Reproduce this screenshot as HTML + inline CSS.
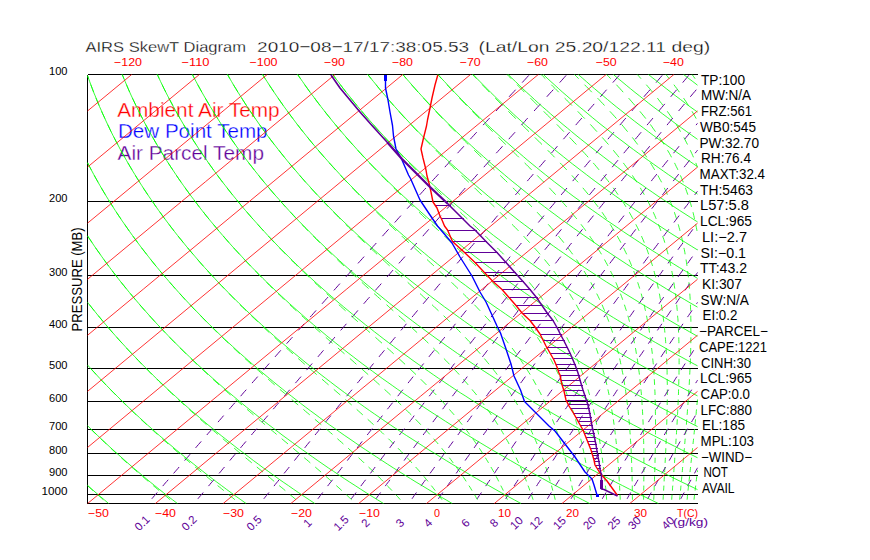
<!DOCTYPE html><html><head><meta charset="utf-8"><style>html,body{margin:0;padding:0;background:#fff;width:870px;height:560px;overflow:hidden;position:relative}</style></head><body>
<svg width="870" height="560" viewBox="0 0 870 560" style="position:absolute;left:0;top:0">
<g font-family="Liberation Sans, sans-serif"><text x="85.5" y="51.5" font-size="15.5" fill="#000" stroke="#fff" stroke-width="0.3" textLength="160.5" lengthAdjust="spacingAndGlyphs">AIRS SkewT Diagram</text>
<text x="257.1" y="51.5" font-size="15.5" fill="#000" stroke="#fff" stroke-width="0.3" textLength="212" lengthAdjust="spacingAndGlyphs">2010−08−17/17:38:05.53</text>
<text x="478.6" y="51.5" font-size="15.5" fill="#000" stroke="#fff" stroke-width="0.3" textLength="231.5" lengthAdjust="spacingAndGlyphs">(Lat/Lon 25.20/122.11 deg)</text>
<text x="114.0" y="66" font-size="11.5" fill="#ff0000" textLength="28" lengthAdjust="spacingAndGlyphs">−120</text>
<text x="181.5" y="66" font-size="11.5" fill="#ff0000" textLength="28" lengthAdjust="spacingAndGlyphs">−110</text>
<text x="249.5" y="66" font-size="11.5" fill="#ff0000" textLength="28" lengthAdjust="spacingAndGlyphs">−100</text>
<text x="324.0" y="66" font-size="11.5" fill="#ff0000" textLength="21" lengthAdjust="spacingAndGlyphs">−90</text>
<text x="392.0" y="66" font-size="11.5" fill="#ff0000" textLength="21" lengthAdjust="spacingAndGlyphs">−80</text>
<text x="459.7" y="66" font-size="11.5" fill="#ff0000" textLength="21" lengthAdjust="spacingAndGlyphs">−70</text>
<text x="527.0" y="66" font-size="11.5" fill="#ff0000" textLength="21" lengthAdjust="spacingAndGlyphs">−60</text>
<text x="595.7" y="66" font-size="11.5" fill="#ff0000" textLength="21" lengthAdjust="spacingAndGlyphs">−50</text>
<text x="662.9" y="66" font-size="11.5" fill="#ff0000" textLength="21" lengthAdjust="spacingAndGlyphs">−40</text>
<text x="49.0" y="75" font-size="11.6" fill="#000" textLength="18.5" lengthAdjust="spacingAndGlyphs">100</text>
<text x="49.0" y="202" font-size="11.6" fill="#000" textLength="18.5" lengthAdjust="spacingAndGlyphs">200</text>
<text x="49.0" y="276" font-size="11.6" fill="#000" textLength="18.5" lengthAdjust="spacingAndGlyphs">300</text>
<text x="49.0" y="328" font-size="11.6" fill="#000" textLength="18.5" lengthAdjust="spacingAndGlyphs">400</text>
<text x="49.0" y="369" font-size="11.6" fill="#000" textLength="18.5" lengthAdjust="spacingAndGlyphs">500</text>
<text x="49.0" y="402" font-size="11.6" fill="#000" textLength="18.5" lengthAdjust="spacingAndGlyphs">600</text>
<text x="49.0" y="430" font-size="11.6" fill="#000" textLength="18.5" lengthAdjust="spacingAndGlyphs">700</text>
<text x="49.0" y="454" font-size="11.6" fill="#000" textLength="18.5" lengthAdjust="spacingAndGlyphs">800</text>
<text x="49.0" y="476" font-size="11.6" fill="#000" textLength="18.5" lengthAdjust="spacingAndGlyphs">900</text>
<text x="41.5" y="495" font-size="11.6" fill="#000" textLength="26" lengthAdjust="spacingAndGlyphs">1000</text>
<text x="0" y="0" font-size="14" fill="#000" textLength="104" lengthAdjust="spacingAndGlyphs" transform="translate(82,331.4) rotate(-90)">PRESSURE (MB)</text>
<text x="117.2" y="116.8" font-size="19.3" fill="#ff0000" stroke="#fff" stroke-width="0.3" textLength="162.5" lengthAdjust="spacingAndGlyphs">Ambient Air Temp</text>
<text x="118" y="138" font-size="19.3" fill="#0000ff" stroke="#fff" stroke-width="0.3" textLength="149.5" lengthAdjust="spacingAndGlyphs">Dew Point Temp</text>
<text x="117.5" y="159.6" font-size="19.3" fill="#600098" stroke="#fff" stroke-width="0.3" textLength="146.5" lengthAdjust="spacingAndGlyphs">Air Parcel Temp</text>
<text x="701" y="84.7" font-size="13.8" fill="#000" textLength="44" lengthAdjust="spacingAndGlyphs">TP:100</text>
<text x="701" y="100.4" font-size="13.8" fill="#000" textLength="50" lengthAdjust="spacingAndGlyphs">MW:N/A</text>
<text x="701" y="116.1" font-size="13.8" fill="#000" textLength="51" lengthAdjust="spacingAndGlyphs">FRZ:561</text>
<text x="700" y="131.8" font-size="13.8" fill="#000" textLength="56" lengthAdjust="spacingAndGlyphs">WB0:545</text>
<text x="699.4" y="147.5" font-size="13.8" fill="#000" textLength="59.6" lengthAdjust="spacingAndGlyphs">PW:32.70</text>
<text x="701" y="163.2" font-size="13.8" fill="#000" textLength="50" lengthAdjust="spacingAndGlyphs">RH:76.4</text>
<text x="699.6" y="179.0" font-size="13.8" fill="#000" textLength="65.4" lengthAdjust="spacingAndGlyphs">MAXT:32.4</text>
<text x="700" y="194.7" font-size="13.8" fill="#000" textLength="53" lengthAdjust="spacingAndGlyphs">TH:5463</text>
<text x="700" y="210.4" font-size="13.8" fill="#000" textLength="49" lengthAdjust="spacingAndGlyphs">L57:5.8</text>
<text x="700" y="226.1" font-size="13.8" fill="#000" textLength="52" lengthAdjust="spacingAndGlyphs">LCL:965</text>
<text x="702" y="241.8" font-size="13.8" fill="#000" textLength="45" lengthAdjust="spacingAndGlyphs">LI:−2.7</text>
<text x="700.6" y="257.5" font-size="13.8" fill="#000" textLength="45.4" lengthAdjust="spacingAndGlyphs">SI:−0.1</text>
<text x="700" y="273.2" font-size="13.8" fill="#000" textLength="47" lengthAdjust="spacingAndGlyphs">TT:43.2</text>
<text x="702" y="288.9" font-size="13.8" fill="#000" textLength="40" lengthAdjust="spacingAndGlyphs">KI:307</text>
<text x="700.6" y="304.6" font-size="13.8" fill="#000" textLength="48.4" lengthAdjust="spacingAndGlyphs">SW:N/A</text>
<text x="702.6" y="320.4" font-size="13.8" fill="#000" textLength="34.8" lengthAdjust="spacingAndGlyphs">EI:0.2</text>
<text x="699" y="336.1" font-size="13.8" fill="#000" textLength="69" lengthAdjust="spacingAndGlyphs">−PARCEL−</text>
<text x="699" y="351.8" font-size="13.8" fill="#000" textLength="68" lengthAdjust="spacingAndGlyphs">CAPE:1221</text>
<text x="701" y="367.5" font-size="13.8" fill="#000" textLength="50" lengthAdjust="spacingAndGlyphs">CINH:30</text>
<text x="700" y="383.2" font-size="13.8" fill="#000" textLength="52" lengthAdjust="spacingAndGlyphs">LCL:965</text>
<text x="700.6" y="398.9" font-size="13.8" fill="#000" textLength="49.4" lengthAdjust="spacingAndGlyphs">CAP:0.0</text>
<text x="700.6" y="414.6" font-size="13.8" fill="#000" textLength="51.4" lengthAdjust="spacingAndGlyphs">LFC:880</text>
<text x="702" y="430.3" font-size="13.8" fill="#000" textLength="43" lengthAdjust="spacingAndGlyphs">EL:185</text>
<text x="700.6" y="446.0" font-size="13.8" fill="#000" textLength="53.4" lengthAdjust="spacingAndGlyphs">MPL:103</text>
<text x="701" y="461.7" font-size="13.8" fill="#000" textLength="51" lengthAdjust="spacingAndGlyphs">−WIND−</text>
<text x="703.4" y="477.4" font-size="13.8" fill="#000" textLength="24.6" lengthAdjust="spacingAndGlyphs">NOT</text>
<text x="702" y="493.2" font-size="13.8" fill="#000" textLength="32.6" lengthAdjust="spacingAndGlyphs">AVAIL</text>
<text x="88.0" y="517" font-size="11.5" fill="#ff0000" textLength="21" lengthAdjust="spacingAndGlyphs">−50</text>
<text x="155.0" y="517" font-size="11.5" fill="#ff0000" textLength="21" lengthAdjust="spacingAndGlyphs">−40</text>
<text x="223.0" y="517" font-size="11.5" fill="#ff0000" textLength="21" lengthAdjust="spacingAndGlyphs">−30</text>
<text x="291.0" y="517" font-size="11.5" fill="#ff0000" textLength="21" lengthAdjust="spacingAndGlyphs">−20</text>
<text x="359.0" y="517" font-size="11.5" fill="#ff0000" textLength="21" lengthAdjust="spacingAndGlyphs">−10</text>
<text x="434.0" y="517" font-size="11.5" fill="#ff0000" textLength="6" lengthAdjust="spacingAndGlyphs">0</text>
<text x="498.0" y="517" font-size="11.5" fill="#ff0000" textLength="13" lengthAdjust="spacingAndGlyphs">10</text>
<text x="566.0" y="517" font-size="11.5" fill="#ff0000" textLength="13" lengthAdjust="spacingAndGlyphs">20</text>
<text x="634.0" y="517" font-size="11.5" fill="#ff0000" textLength="13" lengthAdjust="spacingAndGlyphs">30</text>
<text x="677" y="516.5" font-size="11.5" fill="#ff0000" textLength="21" lengthAdjust="spacingAndGlyphs">T(C)</text>
<text x="0" y="4" font-size="11.5" fill="#600098" text-anchor="middle" transform="translate(142,523) rotate(-45)">0.1</text>
<text x="0" y="4" font-size="11.5" fill="#600098" text-anchor="middle" transform="translate(189,523) rotate(-45)">0.2</text>
<text x="0" y="4" font-size="11.5" fill="#600098" text-anchor="middle" transform="translate(254,523) rotate(-45)">0.5</text>
<text x="0" y="4" font-size="11.5" fill="#600098" text-anchor="middle" transform="translate(307.5,523) rotate(-45)">1</text>
<text x="0" y="4" font-size="11.5" fill="#600098" text-anchor="middle" transform="translate(341,523) rotate(-45)">1.5</text>
<text x="0" y="4" font-size="11.5" fill="#600098" text-anchor="middle" transform="translate(365.5,523) rotate(-45)">2</text>
<text x="0" y="4" font-size="11.5" fill="#600098" text-anchor="middle" transform="translate(400,523) rotate(-45)">3</text>
<text x="0" y="4" font-size="11.5" fill="#600098" text-anchor="middle" transform="translate(428,523) rotate(-45)">4</text>
<text x="0" y="4" font-size="11.5" fill="#600098" text-anchor="middle" transform="translate(465.5,523) rotate(-45)">6</text>
<text x="0" y="4" font-size="11.5" fill="#600098" text-anchor="middle" transform="translate(494,523) rotate(-45)">8</text>
<text x="0" y="4" font-size="11.5" fill="#600098" text-anchor="middle" transform="translate(516.5,523) rotate(-45)">10</text>
<text x="0" y="4" font-size="11.5" fill="#600098" text-anchor="middle" transform="translate(536,523) rotate(-45)">12</text>
<text x="0" y="4" font-size="11.5" fill="#600098" text-anchor="middle" transform="translate(559.5,523) rotate(-45)">15</text>
<text x="0" y="4" font-size="11.5" fill="#600098" text-anchor="middle" transform="translate(589.5,523) rotate(-45)">20</text>
<text x="0" y="4" font-size="11.5" fill="#600098" text-anchor="middle" transform="translate(614,523) rotate(-45)">25</text>
<text x="0" y="4" font-size="11.5" fill="#600098" text-anchor="middle" transform="translate(634.5,523) rotate(-45)">30</text>
<text x="0" y="4" font-size="11.5" fill="#600098" text-anchor="middle" transform="translate(668,523) rotate(-45)">40</text>
<text x="673" y="526" font-size="11.5" fill="#600098" textLength="35" lengthAdjust="spacingAndGlyphs">(g/kg)</text></g>
<g fill="none" stroke-width="0.8">
<path d="M87.5 74.5H697.5M87.5 201.5H697.5M87.5 275.5H697.5M87.5 327.5H697.5M87.5 368.5H697.5M87.5 401.5H697.5M87.5 429.5H697.5M87.5 453.5H697.5M87.5 475.5H697.5M87.5 494.5H697.5M87.5 503.5H697.5M87.5 74.5V503.5" stroke="#000" stroke-width="1" shape-rendering="crispEdges"/>
<path d="M87.5 485.7L89.2 487.2L91.1 488.9L92.9 490.6M97.6 494.7L99.5 496.3L101.4 498.0L103.3 499.7M90.7 429.0L92.5 430.8L94.4 432.6L96.2 434.4M100.7 438.7L102.5 440.5L104.4 442.2L106.3 444.0M110.8 448.2L112.7 450.0L114.6 451.7L116.5 453.5M121.2 457.7L123.1 459.4L125.0 461.1L126.9 462.9M131.6 467.0L133.6 468.7L135.5 470.4L137.5 472.1M142.4 476.3L144.3 478.0L146.3 479.7L148.3 481.4M153.2 485.6L155.2 487.2L157.2 488.9L159.2 490.6M164.1 494.7L166.1 496.3L168.1 498.0L170.1 499.7M91.0 368.9L92.7 370.8L94.5 372.7L96.2 374.6M100.5 379.2L102.3 381.1L104.1 383.0L105.9 384.9M110.3 389.4L112.1 391.3L113.9 393.1L115.8 395.0M120.3 399.5L122.1 401.3L124.0 403.2L125.9 405.0M130.5 409.4L132.4 411.3L134.3 413.1L136.2 414.9M140.9 419.3L142.8 421.1L144.8 422.9L146.7 424.7M151.5 429.0L153.4 430.8L155.4 432.6L157.4 434.4M162.2 438.7L164.2 440.5L166.2 442.2L168.2 444.0M173.1 448.2L175.1 450.0L177.1 451.7L179.2 453.5M184.1 457.7L186.1 459.4L188.2 461.1L190.2 462.9M195.1 467.0L197.2 468.7L199.2 470.4L201.3 472.1M206.4 476.3L208.4 478.0L210.5 479.7L212.5 481.4M217.6 485.6L219.7 487.2L221.7 488.9L223.8 490.6M228.8 494.7L230.8 496.3L232.9 498.0L234.9 499.7M89.4 304.7L90.6 306.2L91.8 307.8L93.1 309.3L94.3 310.8M98.3 315.7L99.5 317.2L100.8 318.7L102.0 320.2L103.3 321.7M107.4 326.6L109.1 328.6L110.8 330.6L112.6 332.6M116.8 337.3L118.5 339.3L120.3 341.3L122.1 343.2M126.4 348.0L128.2 349.9L130.1 351.9L131.9 353.8M136.3 358.5L138.2 360.4L140.1 362.4L141.9 364.3M146.5 368.9L148.4 370.8L150.3 372.7L152.2 374.6M156.9 379.2L158.8 381.1L160.8 383.0L162.7 384.9M167.5 389.4L169.4 391.3L171.4 393.1L173.4 395.0M178.2 399.5L180.3 401.3L182.3 403.2L184.3 405.0M189.2 409.4L191.2 411.3L193.3 413.1L195.4 414.9M200.3 419.3L202.4 421.1L204.5 422.9L206.5 424.7M211.5 429.0L213.6 430.8L215.7 432.6L217.8 434.4M222.8 438.7L224.9 440.5L227.0 442.2L229.1 444.0M234.2 448.2L236.3 450.0L238.4 451.7L240.5 453.5M245.5 457.7L247.6 459.4L249.7 461.1L251.8 462.9M256.8 467.0L258.9 468.7L261.0 470.4L263.0 472.1M268.1 476.3L270.2 478.0L272.2 479.7L274.2 481.4M279.2 485.6L281.2 487.2L283.3 488.9L285.3 490.6M290.1 494.7L292.1 496.3L294.1 498.0L296.0 499.7M87.7 236.1L88.8 237.8L89.9 239.4L91.0 241.0L92.1 242.7M95.6 247.9L96.7 249.5L97.9 251.1L99.0 252.7L100.1 254.3M103.8 259.5L105.0 261.1L106.2 262.7L107.3 264.3L108.5 265.9M112.3 271.0L113.5 272.6L114.8 274.1L116.0 275.7L117.2 277.3M121.2 282.3L122.4 283.9L123.7 285.5L124.9 287.0L126.2 288.6M130.3 293.6L131.6 295.1L132.9 296.7L134.2 298.2L135.5 299.8M139.7 304.7L141.0 306.2L142.4 307.8L143.7 309.3L145.1 310.8M149.4 315.7L150.8 317.2L152.2 318.7L153.5 320.2L154.9 321.7M159.4 326.6L161.3 328.6L163.1 330.6L165.0 332.6M169.6 337.3L171.5 339.3L173.5 341.3L175.4 343.2M180.1 348.0L182.1 349.9L184.1 351.9L186.0 353.8M190.8 358.5L192.8 360.4L194.9 362.4L196.9 364.3M201.8 368.9L203.8 370.8L205.9 372.7L207.9 374.6M212.9 379.2L215.0 381.1L217.1 383.0L219.1 384.9M224.2 389.4L226.3 391.3L228.4 393.1L230.5 395.0M235.6 399.5L237.7 401.3L239.9 403.2L242.0 405.0M247.1 409.4L249.3 411.3L251.4 413.1L253.5 414.9M258.7 419.3L260.8 421.1L262.9 422.9L265.1 424.7M270.2 429.0L272.3 430.8L274.5 432.6L276.6 434.4M281.7 438.7L283.8 440.5L285.9 442.2L288.0 444.0M293.1 448.2L295.1 450.0L297.2 451.7L299.3 453.5M304.2 457.7L306.3 459.4L308.3 461.1L310.3 462.9M315.2 467.0L317.1 468.7L319.1 470.4L321.1 472.1M325.9 476.3L327.8 478.0L329.7 479.7L331.6 481.4M336.3 485.6L338.1 487.2L340.0 488.9L341.8 490.6M346.3 494.7L348.0 496.3L349.8 498.0L351.6 499.7M87.6 162.9L88.5 164.6L89.4 166.4L90.3 168.1L91.3 169.9M94.3 175.4L95.2 177.2L96.2 178.9L97.2 180.6L98.1 182.3M101.3 187.8L102.3 189.6L103.3 191.3L104.3 193.0L105.4 194.7M108.7 200.1L109.8 201.8L110.8 203.5L111.9 205.2L113.0 206.9M116.4 212.2L117.5 213.9L118.6 215.6L119.8 217.3L120.9 218.9M124.5 224.3L125.7 225.9L126.8 227.6L128.0 229.2L129.1 230.9M132.9 236.1L134.1 237.8L135.3 239.4L136.5 241.0L137.7 242.7M141.6 247.9L142.9 249.5L144.1 251.1L145.4 252.7L146.6 254.3M150.7 259.5L152.0 261.1L153.3 262.7L154.5 264.3L155.8 265.9M160.1 271.0L161.4 272.6L162.7 274.1L164.0 275.7L165.4 277.3M169.7 282.3L171.1 283.9L172.5 285.5L173.8 287.0L175.2 288.6M179.7 293.6L181.1 295.1L182.5 296.7L183.9 298.2L185.3 299.8M189.9 304.7L191.4 306.2L192.8 307.8L194.3 309.3L195.8 310.8M200.5 315.7L202.0 317.2L203.4 318.7L204.9 320.2L206.4 321.7M211.3 326.6L213.3 328.6L215.3 330.6L217.3 332.6M222.3 337.3L224.3 339.3L226.4 341.3L228.5 343.2M233.5 348.0L235.6 349.9L237.7 351.9L239.8 353.8M244.9 358.5L247.1 360.4L249.2 362.4L251.3 364.3M256.5 368.9L258.7 370.8L260.8 372.7L263.0 374.6M268.2 379.2L270.4 381.1L272.5 383.0L274.7 384.9M279.9 389.4L282.1 391.3L284.3 393.1L286.5 395.0M291.7 399.5L293.8 401.3L296.0 403.2L298.2 405.0M303.4 409.4L305.5 411.3L307.7 413.1L309.8 414.9M314.9 419.3L317.0 421.1L319.1 422.9L321.3 424.7M326.3 429.0L328.4 430.8L330.4 432.6L332.5 434.4M337.4 438.7L339.4 440.5L341.4 442.2L343.4 444.0M348.2 448.2L350.1 450.0L352.0 451.7L354.0 453.5M358.5 457.7L360.4 459.4L362.3 461.1L364.1 462.9M368.5 467.0L370.3 468.7L372.1 470.4L373.8 472.1M378.1 476.3L379.8 478.0L381.5 479.7L383.2 481.4M387.2 485.6L388.8 487.2L390.4 488.9L392.0 490.6M395.8 494.7L397.3 496.3L398.8 498.0L400.3 499.7M87.5 75.6L87.9 76.6L88.6 78.7M90.8 84.7L91.5 86.6L92.2 88.4L92.9 90.3L93.7 92.2M96.0 98.1L96.8 99.9L97.5 101.8L98.3 103.6L99.1 105.5M101.6 111.3L102.4 113.2L103.3 115.0L104.1 116.8L104.9 118.6M107.6 124.4L108.5 126.2L109.4 128.1L110.2 129.9L111.1 131.7M114.0 137.4L114.9 139.2L115.8 141.0L116.8 142.8L117.7 144.5M120.8 150.2L121.7 152.0L122.7 153.7L123.7 155.5L124.7 157.3M127.9 162.9L128.9 164.6L129.9 166.4L131.0 168.1L132.0 169.9M135.4 175.4L136.4 177.2L137.5 178.9L138.6 180.6L139.7 182.3M143.2 187.8L144.3 189.6L145.5 191.3L146.6 193.0L147.7 194.7M151.4 200.1L152.6 201.8L153.8 203.5L154.9 205.2L156.1 206.9M160.0 212.2L161.2 213.9L162.4 215.6L163.6 217.3L164.9 218.9M168.9 224.3L170.1 225.9L171.4 227.6L172.7 229.2L173.9 230.9M178.1 236.1L179.4 237.8L180.7 239.4L182.0 241.0L183.4 242.7M187.7 247.9L189.0 249.5L190.4 251.1L191.7 252.7L193.1 254.3M197.5 259.5L198.9 261.1L200.3 262.7L201.7 264.3L203.2 265.9M207.7 271.0L209.2 272.6L210.6 274.1L212.1 275.7L213.5 277.3M218.2 282.3L219.7 283.9L221.2 285.5L222.7 287.0L224.2 288.6M229.0 293.6L230.5 295.1L232.0 296.7L233.5 298.2L235.1 299.8M240.0 304.7L241.6 306.2L243.1 307.8L244.7 309.3L246.3 310.8M251.3 315.7L252.9 317.2L254.5 318.7L256.1 320.2L257.7 321.7M262.8 326.6L265.0 328.6L267.1 330.6L269.3 332.6M274.5 337.3L276.7 339.3L278.8 341.3L281.0 343.2M286.3 348.0L288.5 349.9L290.7 351.9L292.9 353.8M298.2 358.5L300.4 360.4L302.6 362.4L304.8 364.3M310.1 368.9L312.3 370.8L314.5 372.7L316.7 374.6M322.0 379.2L324.2 381.1L326.4 383.0L328.6 384.9M333.8 389.4L336.0 391.3L338.1 393.1L340.3 395.0M345.4 399.5L347.5 401.3L349.6 403.2L351.7 405.0M356.7 409.4L358.8 411.3L360.8 413.1L362.8 414.9M367.7 419.3L369.7 421.1L371.6 422.9L373.6 424.7M378.3 429.0L380.2 430.8L382.1 432.6L383.9 434.4M388.4 438.7L390.2 440.5L392.0 442.2L393.8 444.0M398.0 448.2L399.7 450.0L401.4 451.7L403.1 453.5M407.1 457.7L408.7 459.4L410.3 461.1L411.9 462.9M415.6 467.0L417.2 468.7L418.7 470.4L420.2 472.1M423.8 476.3L425.2 478.0L426.6 479.7L428.0 481.4M431.3 485.6L432.6 487.2L433.9 488.9L435.2 490.6M438.4 494.7L439.6 496.3L440.8 498.0L442.0 499.7M122.2 74.5L123.1 76.6L123.9 78.7M126.5 84.7L127.3 86.6L128.1 88.4L128.9 90.3L129.7 92.2M132.4 98.1L133.3 99.9L134.2 101.8L135.0 103.6L135.9 105.5M138.8 111.3L139.7 113.2L140.6 115.0L141.6 116.8L142.5 118.6M145.6 124.4L146.5 126.2L147.5 128.1L148.5 129.9L149.5 131.7M152.7 137.4L153.8 139.2L154.8 141.0L155.8 142.8L156.9 144.5M160.3 150.2L161.3 152.0L162.4 153.7L163.5 155.5L164.6 157.3M168.2 162.9L169.3 164.6L170.4 166.4L171.6 168.1L172.7 169.9M176.5 175.4L177.6 177.2L178.8 178.9L180.0 180.6L181.2 182.3M185.1 187.8L186.3 189.6L187.6 191.3L188.8 193.0L190.1 194.7M194.1 200.1L195.4 201.8L196.7 203.5L198.0 205.2L199.3 206.9M203.5 212.2L204.8 213.9L206.1 215.6L207.5 217.3L208.8 218.9M213.2 224.3L214.6 225.9L216.0 227.6L217.3 229.2L218.7 230.9M223.3 236.1L224.7 237.8L226.1 239.4L227.5 241.0L229.0 242.7M233.6 247.9L235.1 249.5L236.6 251.1L238.0 252.7L239.5 254.3M244.3 259.5L245.8 261.1L247.3 262.7L248.8 264.3L250.4 265.9M255.3 271.0L256.8 272.6L258.4 274.1L259.9 275.7L261.5 277.3M266.5 282.3L268.1 283.9L269.7 285.5L271.3 287.0L272.9 288.6M278.0 293.6L279.7 295.1L281.3 296.7L282.9 298.2L284.5 299.8M289.8 304.7L291.4 306.2L293.0 307.8L294.7 309.3L296.3 310.8M301.7 315.7L303.3 317.2L305.0 318.7L306.7 320.2L308.3 321.7M313.7 326.6L315.9 328.6L318.1 330.6L320.4 332.6M325.8 337.3L328.0 339.3L330.2 341.3L332.5 343.2M337.9 348.0L340.1 349.9L342.3 351.9L344.5 353.8M349.9 358.5L352.1 360.4L354.3 362.4L356.4 364.3M361.7 368.9L363.9 370.8L366.0 372.7L368.2 374.6M373.3 379.2L375.4 381.1L377.5 383.0L379.6 384.9M384.5 389.4L386.6 391.3L388.6 393.1L390.6 395.0M395.4 399.5L397.3 401.3L399.3 403.2L401.2 405.0M405.7 409.4L407.6 411.3L409.4 413.1L411.3 414.9M415.6 419.3L417.3 421.1L419.1 422.9L420.8 424.7M424.9 429.0L426.5 430.8L428.2 432.6L429.8 434.4M433.6 438.7L435.1 440.5L436.7 442.2L438.2 444.0M441.7 448.2L443.1 450.0L444.6 451.7L446.0 453.5M449.3 457.7L450.6 459.4L451.9 461.1L453.2 462.9M456.3 467.0L457.5 468.7L458.7 470.4L460.0 472.1M462.8 476.3L464.0 478.0L465.1 479.7L466.2 481.4M468.9 485.6L470.0 487.2L471.0 488.9L472.0 490.6M474.5 494.7L475.5 496.3L476.4 498.0L477.4 499.7M157.3 74.5L158.3 76.6L159.2 78.7M162.1 84.7L163.0 86.6L163.9 88.4L164.9 90.3L165.8 92.2M168.8 98.1L169.8 99.9L170.8 101.8L171.8 103.6L172.8 105.5M176.0 111.3L177.0 113.2L178.0 115.0L179.1 116.8L180.1 118.6M183.5 124.4L184.6 126.2L185.7 128.1L186.8 129.9L187.9 131.7M191.5 137.4L192.6 139.2L193.7 141.0L194.9 142.8L196.0 144.5M199.8 150.2L201.0 152.0L202.1 153.7L203.3 155.5L204.6 157.3M208.5 162.9L209.7 164.6L211.0 166.4L212.2 168.1L213.5 169.9M217.6 175.4L218.8 177.2L220.1 178.9L221.4 180.6L222.8 182.3M227.0 187.8L228.3 189.6L229.7 191.3L231.0 193.0L232.4 194.7M236.8 200.1L238.2 201.8L239.6 203.5L241.0 205.2L242.4 206.9M247.0 212.2L248.4 213.9L249.9 215.6L251.3 217.3L252.8 218.9M257.5 224.3L259.0 225.9L260.5 227.6L262.0 229.2L263.5 230.9M268.3 236.1L269.9 237.8L271.4 239.4L272.9 241.0L274.5 242.7M279.5 247.9L281.0 249.5L282.6 251.1L284.2 252.7L285.8 254.3M290.9 259.5L292.5 261.1L294.1 262.7L295.7 264.3L297.4 265.9M302.6 271.0L304.2 272.6L305.9 274.1L307.5 275.7L309.2 277.3M314.5 282.3L316.2 283.9L317.8 285.5L319.5 287.0L321.2 288.6M326.6 293.6L328.3 295.1L330.0 296.7L331.7 298.2L333.4 299.8M338.8 304.7L340.5 306.2L342.2 307.8L343.9 309.3L345.6 310.8M351.0 315.7L352.7 317.2L354.4 318.7L356.1 320.2L357.8 321.7M363.3 326.6L365.5 328.6L367.7 330.6L370.0 332.6M375.4 337.3L377.6 339.3L379.8 341.3L382.0 343.2M387.2 348.0L389.4 349.9L391.6 351.9L393.7 353.8M398.8 358.5L400.9 360.4L403.0 362.4L405.1 364.3M410.0 368.9L412.0 370.8L414.0 372.7L416.0 374.6M420.7 379.2L422.6 381.1L424.5 383.0L426.4 384.9M430.9 389.4L432.7 391.3L434.5 393.1L436.3 395.0M440.5 399.5L442.2 401.3L443.9 403.2L445.5 405.0M449.4 409.4L451.0 411.3L452.6 413.1L454.2 414.9M457.8 419.3L459.3 421.1L460.7 422.9L462.2 424.7M465.6 429.0L466.9 430.8L468.3 432.6L469.6 434.4M472.7 438.7L474.0 440.5L475.2 442.2L476.4 444.0M479.3 448.2L480.5 450.0L481.6 451.7L482.7 453.5M485.4 457.7L486.4 459.4L487.5 461.1L488.5 462.9M490.9 467.0L491.9 468.7L492.9 470.4L493.8 472.1M496.1 476.3L497.0 478.0L497.9 479.7L498.7 481.4M500.8 485.6L501.6 487.2L502.5 488.9L503.3 490.6M505.2 494.7L505.9 496.3L506.7 498.0L507.4 499.7M192.4 74.5L193.5 76.6L194.6 78.7M197.8 84.7L198.8 86.6L199.8 88.4L200.8 90.3L201.9 92.2M205.3 98.1L206.3 99.9L207.4 101.8L208.5 103.6L209.6 105.5M213.2 111.3L214.3 113.2L215.4 115.0L216.6 116.8L217.7 118.6M221.5 124.4L222.6 126.2L223.8 128.1L225.0 129.9L226.2 131.7M230.2 137.4L231.4 139.2L232.7 141.0L233.9 142.8L235.2 144.5M239.3 150.2L240.6 152.0L241.9 153.7L243.2 155.5L244.5 157.3M248.8 162.9L250.1 164.6L251.5 166.4L252.8 168.1L254.2 169.9M258.6 175.4L260.0 177.2L261.4 178.9L262.8 180.6L264.3 182.3M268.9 187.8L270.3 189.6L271.8 191.3L273.2 193.0L274.7 194.7M279.5 200.1L281.0 201.8L282.5 203.5L284.0 205.2L285.5 206.9M290.4 212.2L292.0 213.9L293.5 215.6L295.1 217.3L296.6 218.9M301.7 224.3L303.3 225.9L304.9 227.6L306.5 229.2L308.1 230.9M313.3 236.1L314.9 237.8L316.5 239.4L318.1 241.0L319.8 242.7M325.1 247.9L326.7 249.5L328.4 251.1L330.1 252.7L331.8 254.3M337.2 259.5L338.8 261.1L340.5 262.7L342.2 264.3L343.9 265.9M349.4 271.0L351.1 272.6L352.8 274.1L354.5 275.7L356.2 277.3M361.8 282.3L363.5 283.9L365.2 285.5L366.9 287.0L368.6 288.6M374.1 293.6L375.9 295.1L377.6 296.7L379.3 298.2L381.0 299.8M386.5 304.7L388.2 306.2L389.9 307.8L391.6 309.3L393.3 310.8M398.7 315.7L400.3 317.2L402.0 318.7L403.7 320.2L405.3 321.7M410.6 326.6L412.8 328.6L414.9 330.6L417.1 332.6M422.2 337.3L424.3 339.3L426.4 341.3L428.4 343.2M433.3 348.0L435.3 349.9L437.3 351.9L439.3 353.8M443.9 358.5L445.8 360.4L447.7 362.4L449.5 364.3M453.9 368.9L455.7 370.8L457.5 372.7L459.2 374.6M463.3 379.2L464.9 381.1L466.6 383.0L468.2 384.9M472.0 389.4L473.5 391.3L475.1 393.1L476.6 395.0M480.1 399.5L481.5 401.3L482.9 403.2L484.3 405.0M487.5 409.4L488.8 411.3L490.1 413.1L491.3 414.9M494.3 419.3L495.5 421.1L496.6 422.9L497.8 424.7M500.5 429.0L501.6 430.8L502.7 432.6L503.7 434.4M506.2 438.7L507.2 440.5L508.2 442.2L509.1 444.0M511.4 448.2L512.3 450.0L513.2 451.7L514.1 453.5M516.1 457.7L516.9 459.4L517.7 461.1L518.6 462.9M520.4 467.0L521.2 468.7L521.9 470.4L522.7 472.1M524.4 476.3L525.1 478.0L525.8 479.7L526.4 481.4M528.0 485.6L528.7 487.2L529.3 488.9L529.9 490.6M531.4 494.7L531.9 496.3L532.5 498.0L533.1 499.7M227.5 74.5L228.7 76.6L229.9 78.7M233.4 84.7L234.5 86.6L235.7 88.4L236.8 90.3L237.9 92.2M241.7 98.1L242.8 99.9L244.0 101.8L245.2 103.6L246.4 105.5M250.3 111.3L251.6 113.2L252.8 115.0L254.0 116.8L255.3 118.6M259.4 124.4L260.7 126.2L262.0 128.1L263.3 129.9L264.6 131.7M268.9 137.4L270.2 139.2L271.6 141.0L272.9 142.8L274.3 144.5M278.8 150.2L280.2 152.0L281.6 153.7L283.0 155.5L284.4 157.3M289.0 162.9L290.5 164.6L291.9 166.4L293.4 168.1L294.9 169.9M299.7 175.4L301.2 177.2L302.7 178.9L304.2 180.6L305.7 182.3M310.7 187.8L312.2 189.6L313.8 191.3L315.4 193.0L316.9 194.7M322.0 200.1L323.6 201.8L325.2 203.5L326.8 205.2L328.5 206.9M333.7 212.2L335.3 213.9L337.0 215.6L338.6 217.3L340.3 218.9M345.6 224.3L347.3 225.9L349.0 227.6L350.7 229.2L352.4 230.9M357.8 236.1L359.5 237.8L361.2 239.4L363.0 241.0L364.7 242.7M370.2 247.9L371.9 249.5L373.7 251.1L375.4 252.7L377.1 254.3M382.7 259.5L384.4 261.1L386.2 262.7L387.9 264.3L389.7 265.9M395.2 271.0L397.0 272.6L398.7 274.1L400.4 275.7L402.2 277.3M407.7 282.3L409.4 283.9L411.1 285.5L412.8 287.0L414.5 288.6M420.0 293.6L421.7 295.1L423.3 296.7L425.0 298.2L426.7 299.8M432.0 304.7L433.6 306.2L435.2 307.8L436.9 309.3L438.5 310.8M443.6 315.7L445.2 317.2L446.7 318.7L448.3 320.2L449.8 321.7M454.7 326.6L456.7 328.6L458.7 330.6L460.6 332.6M465.2 337.3L467.1 339.3L468.9 341.3L470.8 343.2M475.1 348.0L476.8 349.9L478.6 351.9L480.3 353.8M484.3 358.5L485.9 360.4L487.5 362.4L489.1 364.3M492.8 368.9L494.3 370.8L495.8 372.7L497.2 374.6M500.6 379.2L502.0 381.1L503.3 383.0L504.7 384.9M507.8 389.4L509.0 391.3L510.2 393.1L511.4 395.0M514.3 399.5L515.4 401.3L516.5 403.2L517.6 405.0M520.2 409.4L521.2 411.3L522.2 413.1L523.2 414.9M525.5 419.3L526.5 421.1L527.4 422.9L528.3 424.7M530.4 429.0L531.3 430.8L532.1 432.6L532.9 434.4M534.8 438.7L535.6 440.5L536.3 442.2L537.1 444.0M538.8 448.2L539.5 450.0L540.2 451.7L540.9 453.5M542.4 457.7L543.0 459.4L543.7 461.1L544.3 462.9M545.7 467.0L546.3 468.7L546.8 470.4L547.4 472.1M548.7 476.3L549.2 478.0L549.7 479.7L550.2 481.4M551.5 485.6L551.9 487.2L552.4 488.9L552.8 490.6M553.9 494.7L554.4 496.3L554.8 498.0L555.2 499.7M262.6 74.5L263.9 76.6L265.2 78.7M269.1 84.7L270.3 86.6L271.5 88.4L272.8 90.3L274.0 92.2M278.1 98.1L279.3 99.9L280.6 101.8L281.9 103.6L283.2 105.5M287.5 111.3L288.8 113.2L290.2 115.0L291.5 116.8L292.9 118.6M297.3 124.4L298.7 126.2L300.1 128.1L301.5 129.9L303.0 131.7M307.6 137.4L309.0 139.2L310.5 141.0L311.9 142.8L313.4 144.5M318.2 150.2L319.7 152.0L321.2 153.7L322.7 155.5L324.3 157.3M329.2 162.9L330.8 164.6L332.4 166.4L333.9 168.1L335.5 169.9M340.6 175.4L342.2 177.2L343.8 178.9L345.5 180.6L347.1 182.3M352.3 187.8L354.0 189.6L355.6 191.3L357.3 193.0L359.0 194.7M364.4 200.1L366.1 201.8L367.7 203.5L369.4 205.2L371.2 206.9M376.7 212.2L378.4 213.9L380.1 215.6L381.8 217.3L383.6 218.9M389.1 224.3L390.9 225.9L392.6 227.6L394.4 229.2L396.1 230.9M401.8 236.1L403.5 237.8L405.3 239.4L407.0 241.0L408.8 242.7M414.4 247.9L416.1 249.5L417.9 251.1L419.6 252.7L421.4 254.3M427.0 259.5L428.7 261.1L430.4 262.7L432.2 264.3L433.9 265.9M439.4 271.0L441.1 272.6L442.8 274.1L444.5 275.7L446.1 277.3M451.5 282.3L453.1 283.9L454.8 285.5L456.4 287.0L458.0 288.6M463.1 293.6L464.7 295.1L466.3 296.7L467.8 298.2L469.4 299.8M474.3 304.7L475.8 306.2L477.3 307.8L478.7 309.3L480.2 310.8M484.8 315.7L486.2 317.2L487.6 318.7L489.0 320.2L490.3 321.7M494.6 326.6L496.3 328.6L498.0 330.6L499.7 332.6M503.7 337.3L505.3 339.3L506.9 341.3L508.4 343.2M512.0 348.0L513.5 349.9L514.9 351.9L516.4 353.8M519.7 358.5L521.0 360.4L522.3 362.4L523.6 364.3M526.6 368.9L527.8 370.8L529.0 372.7L530.2 374.6M532.9 379.2L534.0 381.1L535.0 383.0L536.1 384.9M538.5 389.4L539.5 391.3L540.5 393.1L541.4 395.0M543.6 399.5L544.5 401.3L545.4 403.2L546.2 405.0M548.2 409.4L549.0 411.3L549.8 413.1L550.6 414.9M552.4 419.3L553.1 421.1L553.8 422.9L554.5 424.7M556.1 429.0L556.7 430.8L557.3 432.6L558.0 434.4M559.4 438.7L560.0 440.5L560.5 442.2L561.1 444.0M562.4 448.2L562.9 450.0L563.4 451.7L563.9 453.5M565.1 457.7L565.6 459.4L566.0 461.1L566.5 462.9M567.6 467.0L568.0 468.7L568.4 470.4L568.8 472.1M569.8 476.3L570.2 478.0L570.5 479.7L570.9 481.4M571.8 485.6L572.1 487.2L572.5 488.9L572.8 490.6M573.6 494.7L573.9 496.3L574.2 498.0L574.5 499.7M297.6 74.5L299.1 76.6L300.5 78.7M304.7 84.7L306.0 86.6L307.4 88.4L308.7 90.3L310.1 92.2M314.5 98.1L315.8 99.9L317.2 101.8L318.6 103.6L320.1 105.5M324.6 111.3L326.1 113.2L327.5 115.0L329.0 116.8L330.5 118.6M335.2 124.4L336.7 126.2L338.2 128.1L339.7 129.9L341.3 131.7M346.2 137.4L347.8 139.2L349.3 141.0L350.9 142.8L352.5 144.5M357.6 150.2L359.2 152.0L360.8 153.7L362.4 155.5L364.1 157.3M369.3 162.9L371.0 164.6L372.6 166.4L374.3 168.1L376.0 169.9M381.4 175.4L383.1 177.2L384.8 178.9L386.5 180.6L388.2 182.3M393.7 187.8L395.5 189.6L397.2 191.3L398.9 193.0L400.7 194.7M406.3 200.1L408.1 201.8L409.8 203.5L411.6 205.2L413.3 206.9M419.0 212.2L420.8 213.9L422.5 215.6L424.3 217.3L426.1 218.9M431.8 224.3L433.5 225.9L435.3 227.6L437.1 229.2L438.8 230.9M444.5 236.1L446.2 237.8L448.0 239.4L449.7 241.0L451.5 242.7M457.0 247.9L458.7 249.5L460.4 251.1L462.1 252.7L463.8 254.3M469.2 259.5L470.9 261.1L472.6 262.7L474.2 264.3L475.8 265.9M481.0 271.0L482.6 272.6L484.2 274.1L485.7 275.7L487.3 277.3M492.2 282.3L493.7 283.9L495.2 285.5L496.7 287.0L498.2 288.6M502.8 293.6L504.2 295.1L505.6 296.7L506.9 298.2L508.3 299.8M512.6 304.7L513.9 306.2L515.2 307.8L516.4 309.3L517.7 310.8M521.6 315.7L522.8 317.2L524.0 318.7L525.2 320.2L526.3 321.7M529.9 326.6L531.4 328.6L532.8 330.6L534.2 332.6M537.4 337.3L538.7 339.3L540.0 341.3L541.3 343.2M544.2 348.0L545.4 349.9L546.5 351.9L547.7 353.8M550.3 358.5L551.4 360.4L552.4 362.4L553.4 364.3M555.8 368.9L556.7 370.8L557.6 372.7L558.6 374.6M560.7 379.2L561.5 381.1L562.3 383.0L563.1 384.9M565.0 389.4L565.8 391.3L566.5 393.1L567.2 395.0M568.9 399.5L569.6 401.3L570.3 403.2L570.9 405.0M572.4 409.4L573.0 411.3L573.6 413.1L574.2 414.9M575.5 419.3L576.0 421.1L576.5 422.9L577.1 424.7M578.2 429.0L578.7 430.8L579.2 432.6L579.6 434.4M580.7 438.7L581.1 440.5L581.6 442.2L582.0 444.0M582.9 448.2L583.3 450.0L583.7 451.7L584.0 453.5M584.9 457.7L585.2 459.4L585.5 461.1L585.9 462.9M586.6 467.0L586.9 468.7L587.2 470.4L587.5 472.1M588.2 476.3L588.5 478.0L588.8 479.7L589.0 481.4M589.6 485.6L589.9 487.2L590.1 488.9L590.4 490.6M590.9 494.7L591.1 496.3L591.3 498.0L591.6 499.7M332.7 74.5L334.3 76.6L335.8 78.7M340.3 84.7L341.8 86.6L343.2 88.4L344.7 90.3L346.1 92.2M350.8 98.1L352.3 99.9L353.8 101.8L355.3 103.6L356.8 105.5M361.7 111.3L363.3 113.2L364.8 115.0L366.4 116.8L368.0 118.6M373.1 124.4L374.7 126.2L376.3 128.1L377.9 129.9L379.5 131.7M384.8 137.4L386.4 139.2L388.1 141.0L389.7 142.8L391.4 144.5M396.8 150.2L398.5 152.0L400.2 153.7L401.9 155.5L403.6 157.3M409.2 162.9L410.9 164.6L412.7 166.4L414.4 168.1L416.2 169.9M421.8 175.4L423.6 177.2L425.3 178.9L427.1 180.6L428.9 182.3M434.6 187.8L436.4 189.6L438.2 191.3L439.9 193.0L441.7 194.7M447.5 200.1L449.3 201.8L451.0 203.5L452.8 205.2L454.6 206.9M460.3 212.2L462.1 213.9L463.8 215.6L465.6 217.3L467.4 218.9M473.0 224.3L474.7 225.9L476.5 227.6L478.2 229.2L479.9 230.9M485.4 236.1L487.0 237.8L488.7 239.4L490.4 241.0L492.0 242.7M497.3 247.9L498.9 249.5L500.5 251.1L502.1 252.7L503.7 254.3M508.6 259.5L510.1 261.1L511.7 262.7L513.1 264.3L514.6 265.9M519.3 271.0L520.7 272.6L522.1 274.1L523.5 275.7L524.9 277.3M529.2 282.3L530.5 283.9L531.8 285.5L533.0 287.0L534.3 288.6M538.3 293.6L539.5 295.1L540.6 296.7L541.8 298.2L542.9 299.8M546.5 304.7L547.6 306.2L548.7 307.8L549.7 309.3L550.8 310.8M554.0 315.7L555.0 317.2L555.9 318.7L556.9 320.2L557.8 321.7M560.7 326.6L561.9 328.6L563.0 330.6L564.1 332.6M566.7 337.3L567.7 339.3L568.7 341.3L569.7 343.2M572.0 348.0L572.9 349.9L573.8 351.9L574.7 353.8M576.8 358.5L577.6 360.4L578.4 362.4L579.1 364.3M580.9 368.9L581.7 370.8L582.4 372.7L583.1 374.6M584.7 379.2L585.3 381.1L585.9 383.0L586.5 384.9M587.9 389.4L588.5 391.3L589.0 393.1L589.6 395.0M590.8 399.5L591.3 401.3L591.8 403.2L592.3 405.0M593.4 409.4L593.8 411.3L594.2 413.1L594.7 414.9M595.6 419.3L596.0 421.1L596.4 422.9L596.7 424.7M597.6 429.0L597.9 430.8L598.3 432.6L598.6 434.4M599.3 438.7L599.6 440.5L599.9 442.2L600.2 444.0M600.9 448.2L601.1 450.0L601.4 451.7L601.7 453.5M602.2 457.7L602.5 459.4L602.7 461.1L602.9 462.9M603.4 467.0L603.6 468.7L603.8 470.4L604.0 472.1M604.5 476.3L604.7 478.0L604.9 479.7L605.0 481.4M605.4 485.6L605.6 487.2L605.8 488.9L605.9 490.6M606.3 494.7L606.4 496.3L606.5 498.0L606.7 499.7M367.8 74.5L369.4 76.6L371.1 78.7M376.0 84.7L377.5 86.6L379.0 88.4L380.6 90.3L382.1 92.2M387.2 98.1L388.7 99.9L390.3 101.8L391.9 103.6L393.6 105.5M398.8 111.3L400.4 113.2L402.1 115.0L403.7 116.8L405.4 118.6M410.8 124.4L412.5 126.2L414.2 128.1L415.9 129.9L417.6 131.7M423.1 137.4L424.9 139.2L426.6 141.0L428.3 142.8L430.1 144.5M435.8 150.2L437.5 152.0L439.3 153.7L441.1 155.5L442.9 157.3M448.6 162.9L450.4 164.6L452.2 166.4L454.0 168.1L455.8 169.9M461.6 175.4L463.4 177.2L465.2 178.9L467.0 180.6L468.8 182.3M474.5 187.8L476.3 189.6L478.1 191.3L479.9 193.0L481.7 194.7M487.4 200.1L489.1 201.8L490.9 203.5L492.6 205.2L494.4 206.9M499.9 212.2L501.6 213.9L503.3 215.6L505.0 217.3L506.7 218.9M512.0 224.3L513.7 225.9L515.3 227.6L516.9 229.2L518.5 230.9M523.6 236.1L525.1 237.8L526.6 239.4L528.2 241.0L529.7 242.7M534.4 247.9L535.8 249.5L537.3 251.1L538.7 252.7L540.1 254.3M544.5 259.5L545.8 261.1L547.1 262.7L548.4 264.3L549.7 265.9M553.7 271.0L554.9 272.6L556.0 274.1L557.2 275.7L558.4 277.3M562.0 282.3L563.1 283.9L564.2 285.5L565.2 287.0L566.3 288.6M569.5 293.6L570.5 295.1L571.4 296.7L572.4 298.2L573.3 299.8M576.2 304.7L577.1 306.2L577.9 307.8L578.8 309.3L579.6 310.8M582.1 315.7L582.9 317.2L583.7 318.7L584.4 320.2L585.1 321.7M587.4 326.6L588.3 328.6L589.2 330.6L590.0 332.6M592.0 337.3L592.8 339.3L593.6 341.3L594.3 343.2M596.1 348.0L596.8 349.9L597.5 351.9L598.1 353.8M599.7 358.5L600.3 360.4L600.9 362.4L601.4 364.3M602.8 368.9L603.3 370.8L603.8 372.7L604.3 374.6M605.5 379.2L606.0 381.1L606.4 383.0L606.9 384.9M607.9 389.4L608.3 391.3L608.7 393.1L609.1 395.0M609.9 399.5L610.3 401.3L610.6 403.2L611.0 405.0M611.7 409.4L612.0 411.3L612.3 413.1L612.6 414.9M613.3 419.3L613.6 421.1L613.8 422.9L614.1 424.7M614.6 429.0L614.9 430.8L615.1 432.6L615.3 434.4M615.8 438.7L616.0 440.5L616.2 442.2L616.4 444.0M616.8 448.2L617.0 450.0L617.1 451.7L617.3 453.5M617.7 457.7L617.8 459.4L617.9 461.1L618.1 462.9M618.4 467.0L618.5 468.7L618.6 470.4L618.7 472.1M619.0 476.3L619.1 478.0L619.2 479.7L619.3 481.4M619.6 485.6L619.6 487.2L619.7 488.9L619.8 490.6M620.0 494.7L620.1 496.3L620.2 498.0L620.2 499.7M402.8 74.5L404.6 76.6L406.3 78.7M411.5 84.7L413.1 86.6L414.8 88.4L416.4 90.3L418.1 92.2M423.4 98.1L425.1 99.9L426.8 101.8L428.5 103.6L430.2 105.5M435.7 111.3L437.4 113.2L439.1 115.0L440.9 116.8L442.6 118.6M448.3 124.4L450.0 126.2L451.8 128.1L453.6 129.9L455.4 131.7M461.1 137.4L462.9 139.2L464.7 141.0L466.5 142.8L468.3 144.5M474.2 150.2L476.0 152.0L477.8 153.7L479.6 155.5L481.4 157.3M487.2 162.9L489.0 164.6L490.8 166.4L492.6 168.1L494.5 169.9M500.2 175.4L502.0 177.2L503.8 178.9L505.6 180.6L507.3 182.3M513.0 187.8L514.7 189.6L516.4 191.3L518.2 193.0L519.9 194.7M525.3 200.1L527.0 201.8L528.7 203.5L530.3 205.2L531.9 206.9M537.1 212.2L538.7 213.9L540.3 215.6L541.8 217.3L543.4 218.9M548.2 224.3L549.7 225.9L551.1 227.6L552.6 229.2L554.0 230.9M558.5 236.1L559.8 237.8L561.2 239.4L562.5 241.0L563.8 242.7M567.9 247.9L569.1 249.5L570.3 251.1L571.5 252.7L572.7 254.3M576.4 259.5L577.5 261.1L578.6 262.7L579.6 264.3L580.7 265.9M584.0 271.0L585.0 272.6L585.9 274.1L586.9 275.7L587.8 277.3M590.8 282.3L591.6 283.9L592.5 285.5L593.3 287.0L594.2 288.6M596.7 293.6L597.5 295.1L598.3 296.7L599.0 298.2L599.7 299.8M602.0 304.7L602.7 306.2L603.3 307.8L604.0 309.3L604.6 310.8M606.6 315.7L607.2 317.2L607.7 318.7L608.3 320.2L608.9 321.7M610.6 326.6L611.2 328.6L611.9 330.6L612.6 332.6M614.0 337.3L614.6 339.3L615.2 341.3L615.8 343.2M617.0 348.0L617.5 349.9L618.0 351.9L618.5 353.8M619.6 358.5L620.1 360.4L620.5 362.4L620.9 364.3M621.9 368.9L622.2 370.8L622.6 372.7L623.0 374.6M623.8 379.2L624.1 381.1L624.4 383.0L624.7 384.9M625.4 389.4L625.7 391.3L625.9 393.1L626.2 395.0M626.8 399.5L627.0 401.3L627.2 403.2L627.5 405.0M628.0 409.4L628.2 411.3L628.3 413.1L628.5 414.9M628.9 419.3L629.1 421.1L629.3 422.9L629.4 424.7M629.8 429.0L629.9 430.8L630.0 432.6L630.2 434.4M630.4 438.7L630.5 440.5L630.7 442.2L630.8 444.0M631.0 448.2L631.1 450.0L631.2 451.7L631.2 453.5M631.4 457.7L631.5 459.4L631.6 461.1L631.6 462.9M631.8 467.0L631.8 468.7L631.9 470.4L631.9 472.1M632.1 476.3L632.1 478.0L632.1 479.7L632.2 481.4M632.3 485.6L632.3 487.2L632.3 488.9L632.4 490.6M632.4 494.7L632.4 496.3L632.4 498.0L632.5 499.7M437.7 74.5L439.6 76.6L441.5 78.7M447.0 84.7L448.7 86.6L450.4 88.4L452.1 90.3L453.9 92.2M459.5 98.1L461.2 99.9L463.0 101.8L464.8 103.6L466.5 105.5M472.3 111.3L474.1 113.2L475.9 115.0L477.7 116.8L479.5 118.6M485.3 124.4L487.1 126.2L489.0 128.1L490.8 129.9L492.6 131.7M498.5 137.4L500.3 139.2L502.1 141.0L504.0 142.8L505.8 144.5M511.6 150.2L513.4 152.0L515.2 153.7L517.1 155.5L518.9 157.3M524.6 162.9L526.4 164.6L528.1 166.4L529.9 168.1L531.6 169.9M537.2 175.4L538.9 177.2L540.6 178.9L542.3 180.6L544.0 182.3M549.3 187.8L550.9 189.6L552.5 191.3L554.1 193.0L555.7 194.7M560.7 200.1L562.2 201.8L563.7 203.5L565.2 205.2L566.7 206.9M571.3 212.2L572.7 213.9L574.0 215.6L575.4 217.3L576.8 218.9M581.0 224.3L582.2 225.9L583.5 227.6L584.7 229.2L585.9 230.9M589.7 236.1L590.8 237.8L592.0 239.4L593.1 241.0L594.2 242.7M597.5 247.9L598.5 249.5L599.5 251.1L600.5 252.7L601.5 254.3M604.5 259.5L605.3 261.1L606.2 262.7L607.1 264.3L607.9 265.9M610.5 271.0L611.3 272.6L612.1 274.1L612.8 275.7L613.6 277.3M615.8 282.3L616.5 283.9L617.2 285.5L617.8 287.0L618.5 288.6M620.4 293.6L621.0 295.1L621.6 296.7L622.2 298.2L622.7 299.8M624.4 304.7L624.9 306.2L625.4 307.8L625.9 309.3L626.4 310.8M627.9 315.7L628.3 317.2L628.7 318.7L629.1 320.2L629.5 321.7M630.8 326.6L631.3 328.6L631.8 330.6L632.2 332.6M633.3 337.3L633.7 339.3L634.1 341.3L634.5 343.2M635.4 348.0L635.8 349.9L636.1 351.9L636.4 353.8M637.2 358.5L637.5 360.4L637.8 362.4L638.0 364.3M638.7 368.9L638.9 370.8L639.2 372.7L639.4 374.6M639.9 379.2L640.1 381.1L640.3 383.0L640.5 384.9M640.9 389.4L641.1 391.3L641.3 393.1L641.4 395.0M641.8 399.5L641.9 401.3L642.0 403.2L642.1 405.0M642.4 409.4L642.5 411.3L642.6 413.1L642.7 414.9M642.9 419.3L643.0 421.1L643.1 422.9L643.1 424.7M643.3 429.0L643.4 430.8L643.4 432.6L643.5 434.4M643.6 438.7L643.6 440.5L643.7 442.2L643.7 444.0M643.8 448.2L643.8 450.0L643.8 451.7L643.8 453.5M643.9 457.7L643.9 459.4L643.9 461.1L643.9 462.9M643.9 467.0L643.9 468.7L643.9 470.4L643.9 472.1M643.9 476.3L643.8 478.0L643.8 479.7L643.8 481.4M643.8 485.6L643.8 487.2L643.7 488.9L643.7 490.6M643.7 494.7L643.6 496.3L643.6 498.0L643.6 499.7M472.5 74.5L474.5 76.6L476.5 78.7M482.2 84.7L484.0 86.6L485.8 88.4L487.6 90.3L489.4 92.2M495.2 98.1L497.0 99.9L498.8 101.8L500.7 103.6L502.5 105.5M508.4 111.3L510.2 113.2L512.1 115.0L513.9 116.8L515.8 118.6M521.7 124.4L523.5 126.2L525.3 128.1L527.1 129.9L529.0 131.7M534.8 137.4L536.6 139.2L538.4 141.0L540.2 142.8L542.0 144.5M547.7 150.2L549.4 152.0L551.2 153.7L552.9 155.5L554.6 157.3M560.1 162.9L561.8 164.6L563.4 166.4L565.1 168.1L566.7 169.9M571.9 175.4L573.4 177.2L575.0 178.9L576.5 180.6L578.1 182.3M582.8 187.8L584.3 189.6L585.7 191.3L587.1 193.0L588.5 194.7M592.9 200.1L594.2 201.8L595.5 203.5L596.8 205.2L598.1 206.9M602.0 212.2L603.2 213.9L604.3 215.6L605.5 217.3L606.6 218.9M610.1 224.3L611.2 225.9L612.2 227.6L613.2 229.2L614.2 230.9M617.3 236.1L618.2 237.8L619.1 239.4L620.0 241.0L620.9 242.7M623.6 247.9L624.4 249.5L625.1 251.1L625.9 252.7L626.7 254.3M629.0 259.5L629.7 261.1L630.4 262.7L631.0 264.3L631.7 265.9M633.7 271.0L634.3 272.6L634.9 274.1L635.5 275.7L636.0 277.3M637.7 282.3L638.2 283.9L638.7 285.5L639.2 287.0L639.7 288.6M641.2 293.6L641.6 295.1L642.0 296.7L642.4 298.2L642.8 299.8M644.1 304.7L644.4 306.2L644.8 307.8L645.1 309.3L645.5 310.8M646.5 315.7L646.8 317.2L647.1 318.7L647.4 320.2L647.7 321.7M648.6 326.6L648.9 328.6L649.2 330.6L649.5 332.6M650.2 337.3L650.5 339.3L650.8 341.3L651.0 343.2M651.6 348.0L651.8 349.9L652.1 351.9L652.3 353.8M652.7 358.5L652.9 360.4L653.1 362.4L653.3 364.3M653.6 368.9L653.8 370.8L653.9 372.7L654.0 374.6M654.3 379.2L654.4 381.1L654.5 383.0L654.6 384.9M654.8 389.4L654.9 391.3L655.0 393.1L655.0 395.0M655.2 399.5L655.2 401.3L655.3 403.2L655.3 405.0M655.4 409.4L655.4 411.3L655.4 413.1L655.5 414.9M655.5 419.3L655.5 421.1L655.5 422.9L655.5 424.7M655.5 429.0L655.5 430.8L655.5 432.6L655.5 434.4M655.4 438.7L655.4 440.5L655.4 442.2L655.4 444.0M655.3 448.2L655.3 450.0L655.2 451.7L655.2 453.5M655.1 457.7L655.1 459.4L655.0 461.1L655.0 462.9M654.9 467.0L654.8 468.7L654.8 470.4L654.7 472.1M654.6 476.3L654.5 478.0L654.5 479.7L654.4 481.4M654.3 485.6L654.2 487.2L654.2 488.9L654.1 490.6M653.9 494.7L653.9 496.3L653.8 498.0L653.7 499.7M507.1 74.5L509.1 76.6L511.2 78.7M517.1 84.7L518.9 86.6L520.7 88.4L522.6 90.3L524.4 92.2M530.4 98.1L532.2 99.9L534.1 101.8L535.9 103.6L537.8 105.5M543.7 111.3L545.5 113.2L547.3 115.0L549.2 116.8L551.0 118.6M556.8 124.4L558.6 126.2L560.4 128.1L562.2 129.9L563.9 131.7M569.6 137.4L571.3 139.2L573.0 141.0L574.7 142.8L576.4 144.5M581.7 150.2L583.4 152.0L585.0 153.7L586.6 155.5L588.2 157.3M593.2 162.9L594.7 164.6L596.2 166.4L597.6 168.1L599.1 169.9M603.7 175.4L605.1 177.2L606.4 178.9L607.8 180.6L609.1 182.3M613.2 187.8L614.5 189.6L615.7 191.3L616.9 193.0L618.1 194.7M621.7 200.1L622.8 201.8L623.9 203.5L625.0 205.2L626.0 206.9M629.3 212.2L630.2 213.9L631.2 215.6L632.1 217.3L633.0 218.9M635.8 224.3L636.6 225.9L637.5 227.6L638.3 229.2L639.1 230.9M641.5 236.1L642.2 237.8L642.9 239.4L643.6 241.0L644.3 242.7M646.3 247.9L647.0 249.5L647.6 251.1L648.1 252.7L648.7 254.3M650.5 259.5L651.0 261.1L651.5 262.7L652.0 264.3L652.5 265.9M654.0 271.0L654.4 272.6L654.8 274.1L655.3 275.7L655.7 277.3M656.9 282.3L657.3 283.9L657.6 285.5L658.0 287.0L658.3 288.6M659.3 293.6L659.7 295.1L659.9 296.7L660.2 298.2L660.5 299.8M661.4 304.7L661.6 306.2L661.8 307.8L662.1 309.3L662.3 310.8M663.0 315.7L663.2 317.2L663.4 318.7L663.6 320.2L663.7 321.7M664.3 326.6L664.5 328.6L664.7 330.6L664.9 332.6M665.3 337.3L665.5 339.3L665.6 341.3L665.8 343.2M666.1 348.0L666.2 349.9L666.3 351.9L666.4 353.8M666.6 358.5L666.7 360.4L666.8 362.4L666.9 364.3M667.0 368.9L667.1 370.8L667.1 372.7L667.1 374.6M667.2 379.2L667.2 381.1L667.3 383.0L667.3 384.9M667.3 389.4L667.3 391.3L667.3 393.1L667.3 395.0M667.3 399.5L667.2 401.3L667.2 403.2L667.2 405.0M667.1 409.4L667.1 411.3L667.0 413.1L667.0 414.9M666.9 419.3L666.8 421.1L666.8 422.9L666.7 424.7M666.6 429.0L666.5 430.8L666.5 432.6L666.4 434.4M666.2 438.7L666.2 440.5L666.1 442.2L666.0 444.0M665.8 448.2L665.8 450.0L665.7 451.7L665.6 453.5M665.4 457.7L665.3 459.4L665.2 461.1L665.1 462.9M664.9 467.0L664.8 468.7L664.7 470.4L664.7 472.1M664.4 476.3L664.3 478.0L664.2 479.7L664.1 481.4M663.9 485.6L663.8 487.2L663.7 488.9L663.6 490.6M663.4 494.7L663.3 496.3L663.2 498.0L663.1 499.7M541.2 74.5L543.2 76.6L545.3 78.7M551.3 84.7L553.1 86.6L555.0 88.4L556.9 90.3L558.7 92.2M564.6 98.1L566.5 99.9L568.3 101.8L570.1 103.6L571.9 105.5M577.7 111.3L579.5 113.2L581.2 115.0L583.0 116.8L584.8 118.6M590.3 124.4L592.0 126.2L593.7 128.1L595.3 129.9L597.0 131.7M602.2 137.4L603.8 139.2L605.4 141.0L606.9 142.8L608.5 144.5M613.3 150.2L614.7 152.0L616.1 153.7L617.6 155.5L619.0 157.3M623.3 162.9L624.6 164.6L625.9 166.4L627.2 168.1L628.5 169.9M632.4 175.4L633.5 177.2L634.7 178.9L635.8 180.6L636.9 182.3M640.3 187.8L641.3 189.6L642.3 191.3L643.3 193.0L644.3 194.7M647.3 200.1L648.2 201.8L649.0 203.5L649.9 205.2L650.7 206.9M653.3 212.2L654.0 213.9L654.8 215.6L655.5 217.3L656.2 218.9M658.4 224.3L659.0 225.9L659.6 227.6L660.3 229.2L660.9 230.9M662.7 236.1L663.2 237.8L663.8 239.4L664.3 241.0L664.8 242.7M666.3 247.9L666.8 249.5L667.2 251.1L667.7 252.7L668.1 254.3M669.3 259.5L669.7 261.1L670.1 262.7L670.4 264.3L670.8 265.9M671.8 271.0L672.1 272.6L672.4 274.1L672.7 275.7L673.0 277.3M673.8 282.3L674.1 283.9L674.3 285.5L674.5 287.0L674.8 288.6M675.4 293.6L675.6 295.1L675.8 296.7L676.0 298.2L676.2 299.8M676.7 304.7L676.8 306.2L677.0 307.8L677.1 309.3L677.3 310.8M677.6 315.7L677.7 317.2L677.9 318.7L678.0 320.2L678.0 321.7M678.3 326.6L678.4 328.6L678.5 330.6L678.6 332.6M678.8 337.3L678.8 339.3L678.9 341.3L678.9 343.2M679.0 348.0L679.1 349.9L679.1 351.9L679.1 353.8M679.1 358.5L679.1 360.4L679.1 362.4L679.1 364.3M679.1 368.9L679.0 370.8L679.0 372.7L679.0 374.6M678.9 379.2L678.8 381.1L678.8 383.0L678.7 384.9M678.6 389.4L678.5 391.3L678.5 393.1L678.4 395.0M678.2 399.5L678.2 401.3L678.1 403.2L678.0 405.0M677.8 409.4L677.7 411.3L677.6 413.1L677.5 414.9M677.3 419.3L677.2 421.1L677.1 422.9L677.0 424.7M676.7 429.0L676.6 430.8L676.5 432.6L676.4 434.4M676.1 438.7L676.0 440.5L675.9 442.2L675.8 444.0M675.5 448.2L675.4 450.0L675.2 451.7L675.1 453.5M674.8 457.7L674.7 459.4L674.6 461.1L674.5 462.9M674.2 467.0L674.0 468.7L673.9 470.4L673.8 472.1M673.5 476.3L673.3 478.0L673.2 479.7L673.1 481.4M672.8 485.6L672.6 487.2L672.5 488.9L672.4 490.6M672.1 494.7L671.9 496.3L671.8 498.0L671.7 499.7M574.5 74.5L576.6 76.6L578.6 78.7M584.5 84.7L586.4 86.6L588.2 88.4L590.0 90.3L591.8 92.2M597.5 98.1L599.3 99.9L601.0 101.8L602.8 103.6L604.5 105.5M609.9 111.3L611.6 113.2L613.3 115.0L614.9 116.8L616.5 118.6M621.6 124.4L623.1 126.2L624.6 128.1L626.1 129.9L627.6 131.7M632.3 137.4L633.7 139.2L635.0 141.0L636.4 142.8L637.7 144.5M641.9 150.2L643.1 152.0L644.4 153.7L645.6 155.5L646.8 157.3M650.4 162.9L651.5 164.6L652.6 166.4L653.6 168.1L654.7 169.9M657.9 175.4L658.8 177.2L659.7 178.9L660.7 180.6L661.6 182.3M664.3 187.8L665.1 189.6L665.9 191.3L666.7 193.0L667.4 194.7M669.8 200.1L670.4 201.8L671.1 203.5L671.8 205.2L672.4 206.9M674.4 212.2L674.9 213.9L675.5 215.6L676.0 217.3L676.6 218.9M678.2 224.3L678.7 225.9L679.1 227.6L679.6 229.2L680.0 230.9M681.4 236.1L681.8 237.8L682.1 239.4L682.5 241.0L682.9 242.7M683.9 247.9L684.3 249.5L684.6 251.1L684.9 252.7L685.1 254.3M686.0 259.5L686.3 261.1L686.5 262.7L686.7 264.3L687.0 265.9M687.6 271.0L687.8 272.6L688.0 274.1L688.2 275.7L688.4 277.3M688.9 282.3L689.0 283.9L689.2 285.5L689.3 287.0L689.4 288.6M689.8 293.6L689.9 295.1L690.0 296.7L690.1 298.2L690.2 299.8M690.4 304.7L690.5 306.2L690.5 307.8L690.6 309.3L690.6 310.8M690.8 315.7L690.8 317.2L690.8 318.7L690.9 320.2L690.9 321.7M690.9 326.6L690.9 328.6L690.9 330.6L690.9 332.6M690.9 337.3L690.9 339.3L690.9 341.3L690.8 343.2M690.7 348.0L690.7 349.9L690.6 351.9L690.6 353.8M690.4 358.5L690.4 360.4L690.3 362.4L690.2 364.3M690.0 368.9L689.9 370.8L689.8 372.7L689.7 374.6M689.5 379.2L689.4 381.1L689.3 383.0L689.2 384.9M688.9 389.4L688.8 391.3L688.7 393.1L688.6 395.0M688.3 399.5L688.1 401.3L688.0 403.2L687.9 405.0M687.5 409.4L687.4 411.3L687.3 413.1L687.1 414.9M686.8 419.3L686.6 421.1L686.5 422.9L686.4 424.7M686.0 429.0L685.9 430.8L685.7 432.6L685.6 434.4M685.2 438.7L685.0 440.5L684.9 442.2L684.7 444.0M684.4 448.2L684.2 450.0L684.1 451.7L683.9 453.5M683.5 457.7L683.4 459.4L683.2 461.1L683.1 462.9M682.7 467.0L682.5 468.7L682.4 470.4L682.2 472.1M681.8 476.3L681.7 478.0L681.5 479.7L681.3 481.4M681.0 485.6L680.8 487.2L680.7 488.9L680.5 490.6M680.1 494.7L680.0 496.3L679.8 498.0L679.7 499.7M606.7 74.5L608.7 76.6L610.7 78.7M616.4 84.7L618.1 86.6L619.8 88.4L621.5 90.3L623.2 92.2M628.6 98.1L630.2 99.9L631.8 101.8L633.4 103.6L635.0 105.5M639.9 111.3L641.4 113.2L642.9 115.0L644.4 116.8L645.8 118.6M650.3 124.4L651.6 126.2L652.9 128.1L654.2 129.9L655.5 131.7M659.5 137.4L660.7 139.2L661.8 141.0L663.0 142.8L664.1 144.5M667.5 150.2L668.6 152.0L669.6 153.7L670.6 155.5L671.5 157.3M674.5 162.9L675.4 164.6L676.2 166.4L677.1 168.1L677.9 169.9M680.4 175.4L681.2 177.2L681.9 178.9L682.6 180.6L683.3 182.3M685.4 187.8L686.0 189.6L686.6 191.3L687.2 193.0L687.8 194.7M689.6 200.1L690.1 201.8L690.6 203.5L691.1 205.2L691.5 206.9M693.0 212.2L693.4 213.9L693.8 215.6L694.2 217.3L694.5 218.9M695.7 224.3L696.0 225.9L696.4 227.6L696.7 229.2L697.0 230.9M697.5 399.5L697.3 401.3L697.1 403.2L696.9 405.0M696.5 409.4L696.3 411.3L696.2 413.1L696.0 414.9M695.5 419.3L695.4 421.1L695.2 422.9L695.0 424.7M694.6 429.0L694.4 430.8L694.2 432.6L694.0 434.4M693.6 438.7L693.4 440.5L693.2 442.2L693.0 444.0M692.6 448.2L692.4 450.0L692.2 451.7L692.0 453.5M691.6 457.7L691.4 459.4L691.2 461.1L691.0 462.9M690.6 467.0L690.4 468.7L690.2 470.4L690.0 472.1M689.6 476.3L689.4 478.0L689.2 479.7L689.0 481.4M688.6 485.6L688.4 487.2L688.2 488.9L688.0 490.6M687.6 494.7L687.4 496.3L687.3 498.0L687.1 499.7M637.3 74.5L639.2 76.6L641.0 78.7M646.3 84.7L647.9 86.6L649.5 88.4L651.0 90.3L652.6 92.2M657.4 98.1L658.8 99.9L660.2 101.8L661.7 103.6L663.0 105.5M667.3 111.3L668.6 113.2L669.9 115.0L671.2 116.8L672.4 118.6M676.2 124.4L677.3 126.2L678.4 128.1L679.5 129.9L680.5 131.7M683.8 137.4L684.8 139.2L685.7 141.0L686.6 142.8L687.5 144.5M690.3 150.2L691.1 152.0L691.9 153.7L692.7 155.5L693.5 157.3M695.8 162.9L696.5 164.6L697.1 166.4L697.5 167.3M697.5 470.4L697.5 470.4L697.3 472.1M696.8 476.3L696.6 478.0L696.4 479.7L696.2 481.4M695.7 485.6L695.5 487.2L695.3 488.9L695.1 490.6M694.6 494.7L694.4 496.3L694.2 498.0L694.0 499.7M665.9 74.5L667.6 76.6L669.2 78.7M673.9 84.7L675.3 86.6L676.7 88.4L678.1 90.3L679.4 92.2M683.6 98.1L684.8 99.9L686.1 101.8L687.3 103.6L688.4 105.5M692.0 111.3L693.1 113.2L694.2 115.0L695.2 116.8L696.2 118.6M692.1 74.5L693.6 76.6L695.1 78.7" stroke="#00ff00"/>
<path d="M528.8 75.4L527.1 77.2L525.5 79.0L523.8 80.8L522.2 82.6M515.6 89.7L514.0 91.5L512.4 93.2L510.7 95.0L509.1 96.8M502.6 103.9L501.0 105.7L499.3 107.4L497.7 109.2L496.1 111.0M489.6 118.1L488.0 119.8L486.4 121.6L484.7 123.4L483.1 125.1M476.7 132.2L475.1 133.9L473.5 135.7L471.9 137.4L470.3 139.2M463.9 146.2L462.3 148.0L460.7 149.7L459.1 151.5L457.5 153.2M451.1 160.2L449.5 161.9L448.0 163.7L446.4 165.4L444.8 167.2M438.5 174.1L436.9 175.9L435.3 177.6L433.7 179.3L432.2 181.1M425.9 188.0L424.3 189.7L422.7 191.5L421.2 193.2L419.6 194.9M413.4 201.8L411.8 203.6L410.3 205.3L408.7 207.0L407.1 208.7M400.9 215.6L399.4 217.3L397.8 219.0L396.3 220.8L394.7 222.5M388.6 229.3L387.0 231.0L385.5 232.7L384.0 234.4L382.4 236.2M376.3 243.0L374.8 244.7L373.2 246.4L371.7 248.1L370.2 249.8M364.1 256.6L362.6 258.3L361.1 260.0L359.5 261.7L358.0 263.4M352.0 270.1L350.5 271.8L349.0 273.5L347.4 275.2L345.9 276.9M339.9 283.6L338.4 285.3L336.9 287.0L335.4 288.7L333.9 290.4M328.0 297.1L326.5 298.7L325.0 300.4L323.5 302.1L322.0 303.8M316.1 310.4L314.6 312.1L313.1 313.8L311.6 315.5L310.1 317.1M304.2 323.8L302.8 325.4L301.3 327.1L299.8 328.8L298.3 330.4M292.5 337.1L291.0 338.7L289.6 340.4L288.1 342.0L286.6 343.7M280.8 350.3L279.4 351.9L277.9 353.6L276.5 355.2L275.0 356.9M269.2 363.5L267.8 365.1L266.3 366.8L264.9 368.4L263.4 370.1M257.7 376.6L256.3 378.2L254.8 379.9L253.4 381.5L252.0 383.1M246.3 389.7L244.8 391.3L243.4 392.9L242.0 394.6L240.6 396.2M234.9 402.7L233.5 404.3L232.1 405.9L230.6 407.6L229.2 409.2M223.6 415.6L222.2 417.3L220.8 418.9L219.4 420.5L218.0 422.1M212.4 428.6L211.0 430.2L209.6 431.8L208.2 433.4L206.8 435.0M201.2 441.4L199.8 443.0L198.4 444.6L197.0 446.2L195.6 447.9M190.1 454.2L188.8 455.8L187.4 457.4L186.0 459.0L184.6 460.6M179.1 467.0L177.8 468.6L176.4 470.2L175.0 471.8L173.6 473.4M168.2 479.8L166.8 481.4L165.4 482.9L164.1 484.5L162.7 486.1M157.2 492.5L155.9 494.1L154.5 495.6L153.2 497.2L151.8 498.8M566.1 75.4L564.5 77.2L562.9 79.0L561.3 80.8L559.7 82.6M553.3 89.7L551.6 91.5L550.0 93.2L548.4 95.0L546.8 96.8M540.5 103.9L538.9 105.7L537.3 107.4L535.7 109.2L534.1 111.0M527.7 118.1L526.1 119.8L524.6 121.6L523.0 123.4L521.4 125.1M515.1 132.2L513.5 133.9L511.9 135.7L510.3 137.4L508.8 139.2M502.5 146.2L501.0 148.0L499.4 149.7L497.8 151.5L496.2 153.2M490.0 160.2L488.5 161.9L486.9 163.7L485.4 165.4L483.8 167.2M477.6 174.1L476.1 175.9L474.5 177.6L473.0 179.3L471.4 181.1M465.3 188.0L463.8 189.7L462.2 191.5L460.7 193.2L459.2 194.9M453.1 201.8L451.5 203.6L450.0 205.3L448.5 207.0L447.0 208.7M440.9 215.6L439.4 217.3L437.9 219.0L436.3 220.8L434.8 222.5M428.8 229.3L427.3 231.0L425.8 232.7L424.3 234.4L422.8 236.2M416.8 243.0L415.3 244.7L413.8 246.4L412.3 248.1L410.8 249.8M404.9 256.6L403.4 258.3L401.9 260.0L400.4 261.7L398.9 263.4M393.0 270.1L391.5 271.8L390.1 273.5L388.6 275.2L387.1 276.9M381.3 283.6L379.8 285.3L378.3 287.0L376.8 288.7L375.4 290.4M369.6 297.1L368.1 298.7L366.6 300.4L365.2 302.1L363.7 303.8M357.9 310.4L356.5 312.1L355.0 313.8L353.6 315.5L352.1 317.1M346.4 323.8L345.0 325.4L343.5 327.1L342.1 328.8L340.6 330.4M334.9 337.1L333.5 338.7L332.1 340.4L330.6 342.0L329.2 343.7M323.5 350.3L322.1 351.9L320.7 353.6L319.3 355.2L317.9 356.9M312.2 363.5L310.8 365.1L309.4 366.8L308.0 368.4L306.6 370.1M301.0 376.6L299.6 378.2L298.2 379.9L296.8 381.5L295.4 383.1M289.8 389.7L288.4 391.3L287.1 392.9L285.7 394.6L284.3 396.2M278.8 402.7L277.4 404.3L276.0 405.9L274.6 407.6L273.2 409.2M267.8 415.6L266.4 417.3L265.0 418.9L263.6 420.5L262.3 422.1M256.8 428.6L255.5 430.2L254.1 431.8L252.7 433.4L251.4 435.0M246.0 441.4L244.6 443.0L243.3 444.6L241.9 446.2L240.5 447.9M235.2 454.2L233.8 455.8L232.5 457.4L231.1 459.0L229.8 460.6M224.5 467.0L223.1 468.6L221.8 470.2L220.5 471.8L219.1 473.4M213.8 479.8L212.5 481.4L211.1 482.9L209.8 484.5L208.5 486.1M203.2 492.5L201.9 494.1L200.6 495.6L199.2 497.2L197.9 498.8M619.1 75.4L617.6 77.2L616.0 79.0L614.4 80.8L612.8 82.6M606.6 89.7L605.0 91.5L603.5 93.2L601.9 95.0L600.4 96.8M594.2 103.9L592.6 105.7L591.1 107.4L589.5 109.2L588.0 111.0M581.8 118.1L580.3 119.8L578.7 121.6L577.2 123.4L575.7 125.1M569.6 132.2L568.0 133.9L566.5 135.7L565.0 137.4L563.4 139.2M557.4 146.2L555.9 148.0L554.3 149.7L552.8 151.5L551.3 153.2M545.3 160.2L543.8 161.9L542.3 163.7L540.8 165.4L539.2 167.2M533.3 174.1L531.8 175.9L530.3 177.6L528.8 179.3L527.3 181.1M521.3 188.0L519.8 189.7L518.4 191.5L516.9 193.2L515.4 194.9M509.5 201.8L508.0 203.6L506.5 205.3L505.0 207.0L503.6 208.7M497.7 215.6L496.2 217.3L494.8 219.0L493.3 220.8L491.8 222.5M486.0 229.3L484.6 231.0L483.1 232.7L481.6 234.4L480.2 236.2M474.4 243.0L473.0 244.7L471.5 246.4L470.1 248.1L468.6 249.8M462.9 256.6L461.4 258.3L460.0 260.0L458.6 261.7L457.1 263.4M451.4 270.1L450.0 271.8L448.6 273.5L447.1 275.2L445.7 276.9M440.1 283.6L438.6 285.3L437.2 287.0L435.8 288.7L434.4 290.4M428.8 297.1L427.4 298.7L426.0 300.4L424.6 302.1L423.1 303.8M417.6 310.4L416.2 312.1L414.8 313.8L413.4 315.5L412.0 317.1M406.4 323.8L405.1 325.4L403.7 327.1L402.3 328.8L400.9 330.4M395.4 337.1L394.0 338.7L392.6 340.4L391.3 342.0L389.9 343.7M384.4 350.3L383.1 351.9L381.7 353.6L380.3 355.2L379.0 356.9M373.5 363.5L372.2 365.1L370.8 366.8L369.5 368.4L368.1 370.1M362.7 376.6L361.4 378.2L360.0 379.9L358.7 381.5L357.3 383.1M352.0 389.7L350.7 391.3L349.3 392.9L348.0 394.6L346.6 396.2M341.3 402.7L340.0 404.3L338.7 405.9L337.4 407.6L336.0 409.2M330.8 415.6L329.5 417.3L328.1 418.9L326.8 420.5L325.5 422.1M320.3 428.6L319.0 430.2L317.7 431.8L316.4 433.4L315.0 435.0M309.9 441.4L308.6 443.0L307.3 444.6L306.0 446.2L304.7 447.9M299.5 454.2L298.2 455.8L296.9 457.4L295.7 459.0L294.4 460.6M289.3 467.0L288.0 468.6L286.7 470.2L285.4 471.8L284.1 473.4M279.0 479.8L277.8 481.4L276.5 482.9L275.2 484.5L274.0 486.1M268.9 492.5L267.6 494.1L266.4 495.6L265.1 497.2L263.8 498.8M662.2 75.4L660.7 77.2L659.1 79.0L657.6 80.8L656.1 82.6M650.0 89.7L648.5 91.5L647.0 93.2L645.4 95.0L643.9 96.8M637.9 103.9L636.4 105.7L634.9 107.4L633.3 109.2L631.8 111.0M625.8 118.1L624.3 119.8L622.8 121.6L621.3 123.4L619.8 125.1M613.9 132.2L612.4 133.9L610.9 135.7L609.4 137.4L607.9 139.2M602.0 146.2L600.6 148.0L599.1 149.7L597.6 151.5L596.1 153.2M590.3 160.2L588.8 161.9L587.3 163.7L585.9 165.4L584.4 167.2M578.6 174.1L577.1 175.9L575.7 177.6L574.2 179.3L572.7 181.1M567.0 188.0L565.5 189.7L564.1 191.5L562.6 193.2L561.2 194.9M555.4 201.8L554.0 203.6L552.6 205.3L551.1 207.0L549.7 208.7M544.0 215.6L542.6 217.3L541.2 219.0L539.7 220.8L538.3 222.5M532.7 229.3L531.2 231.0L529.8 232.7L528.4 234.4L527.0 236.2M521.4 243.0L520.0 244.7L518.6 246.4L517.2 248.1L515.8 249.8M510.2 256.6L508.8 258.3L507.4 260.0L506.0 261.7L504.6 263.4M499.1 270.1L497.7 271.8L496.3 273.5L494.9 275.2L493.6 276.9M488.1 283.6L486.7 285.3L485.3 287.0L483.9 288.7L482.6 290.4M477.1 297.1L475.8 298.7L474.4 300.4L473.0 302.1L471.7 303.8M466.3 310.4L464.9 312.1L463.6 313.8L462.2 315.5L460.9 317.1M455.5 323.8L454.2 325.4L452.8 327.1L451.5 328.8L450.1 330.4M444.8 337.1L443.5 338.7L442.1 340.4L440.8 342.0L439.5 343.7M434.2 350.3L432.9 351.9L431.5 353.6L430.2 355.2L428.9 356.9M423.7 363.5L422.4 365.1L421.0 366.8L419.7 368.4L418.4 370.1M413.2 376.6L411.9 378.2L410.6 379.9L409.3 381.5L408.0 383.1M402.9 389.7L401.6 391.3L400.3 392.9L399.0 394.6L397.7 396.2M392.6 402.7L391.3 404.3L390.0 405.9L388.7 407.6L387.4 409.2M382.4 415.6L381.1 417.3L379.8 418.9L378.5 420.5L377.3 422.1M372.2 428.6L371.0 430.2L369.7 431.8L368.5 433.4L367.2 435.0M362.2 441.4L360.9 443.0L359.7 444.6L358.4 446.2L357.2 447.9M352.2 454.2L351.0 455.8L349.7 457.4L348.5 459.0L347.3 460.6M342.3 467.0L341.1 468.6L339.9 470.2L338.6 471.8L337.4 473.4M332.5 479.8L331.3 481.4L330.1 482.9L328.8 484.5L327.6 486.1M322.7 492.5L321.5 494.1L320.3 495.6L319.1 497.2L317.9 498.8M688.7 75.4L687.2 77.2L685.7 79.0L684.2 80.8L682.7 82.6M676.7 89.7L675.2 91.5L673.7 93.2L672.2 95.0L670.7 96.8M664.8 103.9L663.3 105.7L661.8 107.4L660.3 109.2L658.8 111.0M652.9 118.1L651.5 119.8L650.0 121.6L648.5 123.4L647.0 125.1M641.2 132.2L639.7 133.9L638.3 135.7L636.8 137.4L635.3 139.2M629.5 146.2L628.1 148.0L626.6 149.7L625.2 151.5L623.7 153.2M618.0 160.2L616.5 161.9L615.1 163.7L613.6 165.4L612.2 167.2M606.5 174.1L605.1 175.9L603.6 177.6L602.2 179.3L600.8 181.1M595.1 188.0L593.7 189.7L592.2 191.5L590.8 193.2L589.4 194.9M583.8 201.8L582.4 203.6L581.0 205.3L579.5 207.0L578.1 208.7M572.6 215.6L571.1 217.3L569.7 219.0L568.4 220.8L567.0 222.5M561.4 229.3L560.0 231.0L558.6 232.7L557.2 234.4L555.9 236.2M550.4 243.0L549.0 244.7L547.6 246.4L546.2 248.1L544.8 249.8M539.4 256.6L538.0 258.3L536.6 260.0L535.3 261.7L533.9 263.4M528.5 270.1L527.1 271.8L525.8 273.5L524.4 275.2L523.1 276.9M517.7 283.6L516.3 285.3L515.0 287.0L513.6 288.7L512.3 290.4M507.0 297.1L505.6 298.7L504.3 300.4L503.0 302.1L501.6 303.8M496.3 310.4L495.0 312.1L493.7 313.8L492.4 315.5L491.0 317.1M485.8 323.8L484.5 325.4L483.1 327.1L481.8 328.8L480.5 330.4M475.3 337.1L474.0 338.7L472.7 340.4L471.4 342.0L470.1 343.7M464.9 350.3L463.6 351.9L462.3 353.6L461.0 355.2L459.8 356.9M454.6 363.5L453.3 365.1L452.1 366.8L450.8 368.4L449.5 370.1M444.4 376.6L443.1 378.2L441.9 379.9L440.6 381.5L439.3 383.1M434.3 389.7L433.0 391.3L431.7 392.9L430.5 394.6L429.2 396.2M424.2 402.7L423.0 404.3L421.7 405.9L420.5 407.6L419.2 409.2M414.2 415.6L413.0 417.3L411.8 418.9L410.5 420.5L409.3 422.1M404.4 428.6L403.1 430.2L401.9 431.8L400.7 433.4L399.4 435.0M394.6 441.4L393.3 443.0L392.1 444.6L390.9 446.2L389.7 447.9M384.8 454.2L383.6 455.8L382.4 457.4L381.2 459.0L380.0 460.6M375.2 467.0L374.0 468.6L372.8 470.2L371.6 471.8L370.4 473.4M365.6 479.8L364.4 481.4L363.2 482.9L362.0 484.5L360.8 486.1M356.1 492.5L354.9 494.1L353.7 495.6L352.5 497.2L351.3 498.8M696.3 89.7L694.8 91.5L693.3 93.2L691.8 95.0L690.3 96.8M684.5 103.9L683.0 105.7L681.6 107.4L680.1 109.2L678.6 111.0M672.8 118.1L671.3 119.8L669.9 121.6L668.4 123.4L667.0 125.1M661.2 132.2L659.8 133.9L658.3 135.7L656.9 137.4L655.4 139.2M649.7 146.2L648.3 148.0L646.8 149.7L645.4 151.5L644.0 153.2M638.3 160.2L636.9 161.9L635.4 163.7L634.0 165.4L632.6 167.2M627.0 174.1L625.5 175.9L624.1 177.6L622.7 179.3L621.3 181.1M615.7 188.0L614.3 189.7L612.9 191.5L611.5 193.2L610.1 194.9M604.6 201.8L603.2 203.6L601.8 205.3L600.4 207.0L599.0 208.7M593.5 215.6L592.1 217.3L590.7 219.0L589.3 220.8L588.0 222.5M582.5 229.3L581.1 231.0L579.8 232.7L578.4 234.4L577.0 236.2M571.6 243.0L570.2 244.7L568.9 246.4L567.5 248.1L566.2 249.8M560.8 256.6L559.4 258.3L558.1 260.0L556.8 261.7L555.4 263.4M550.1 270.1L548.7 271.8L547.4 273.5L546.1 275.2L544.7 276.9M539.4 283.6L538.1 285.3L536.8 287.0L535.4 288.7L534.1 290.4M528.9 297.1L527.6 298.7L526.2 300.4L524.9 302.1L523.6 303.8M518.4 310.4L517.1 312.1L515.8 313.8L514.5 315.5L513.2 317.1M508.0 323.8L506.7 325.4L505.4 327.1L504.1 328.8L502.8 330.4M497.7 337.1L496.4 338.7L495.2 340.4L493.9 342.0L492.6 343.7M487.5 350.3L486.2 351.9L485.0 353.6L483.7 355.2L482.4 356.9M477.4 363.5L476.1 365.1L474.8 366.8L473.6 368.4L472.3 370.1M467.3 376.6L466.1 378.2L464.8 379.9L463.6 381.5L462.3 383.1M457.4 389.7L456.1 391.3L454.9 392.9L453.6 394.6L452.4 396.2M447.5 402.7L446.3 404.3L445.0 405.9L443.8 407.6L442.6 409.2M437.7 415.6L436.5 417.3L435.2 418.9L434.0 420.5L432.8 422.1M428.0 428.6L426.8 430.2L425.6 431.8L424.3 433.4L423.1 435.0M418.4 441.4L417.2 443.0L416.0 444.6L414.8 446.2L413.6 447.9M408.8 454.2L407.6 455.8L406.4 457.4L405.2 459.0L404.1 460.6M399.3 467.0L398.2 468.6L397.0 470.2L395.8 471.8L394.6 473.4M389.9 479.8L388.8 481.4L387.6 482.9L386.4 484.5L385.3 486.1M380.6 492.5L379.4 494.1L378.3 495.6L377.1 497.2L376.0 498.8M697.5 123.3L697.4 123.4L696.0 125.1M690.4 132.2L688.9 133.9L687.5 135.7L686.1 137.4L684.7 139.2M679.1 146.2L677.7 148.0L676.3 149.7L674.9 151.5L673.5 153.2M667.9 160.2L666.5 161.9L665.1 163.7L663.7 165.4L662.3 167.2M656.8 174.1L655.4 175.9L654.0 177.6L652.6 179.3L651.3 181.1M645.8 188.0L644.4 189.7L643.0 191.5L641.7 193.2L640.3 194.9M634.8 201.8L633.5 203.6L632.1 205.3L630.8 207.0L629.4 208.7M624.0 215.6L622.7 217.3L621.3 219.0L620.0 220.8L618.6 222.5M613.3 229.3L611.9 231.0L610.6 232.7L609.2 234.4L607.9 236.2M602.6 243.0L601.3 244.7L599.9 246.4L598.6 248.1L597.3 249.8M592.0 256.6L590.7 258.3L589.4 260.0L588.1 261.7L586.8 263.4M581.5 270.1L580.2 271.8L578.9 273.5L577.6 275.2L576.3 276.9M571.1 283.6L569.8 285.3L568.6 287.0L567.3 288.7L566.0 290.4M560.8 297.1L559.5 298.7L558.3 300.4L557.0 302.1L555.7 303.8M550.6 310.4L549.3 312.1L548.1 313.8L546.8 315.5L545.5 317.1M540.5 323.8L539.2 325.4L537.9 327.1L536.7 328.8L535.4 330.4M530.4 337.1L529.2 338.7L527.9 340.4L526.7 342.0L525.4 343.7M520.5 350.3L519.2 351.9L518.0 353.6L516.7 355.2L515.5 356.9M510.6 363.5L509.4 365.1L508.1 366.8L506.9 368.4L505.7 370.1M500.8 376.6L499.6 378.2L498.4 379.9L497.1 381.5L495.9 383.1M491.1 389.7L489.9 391.3L488.7 392.9L487.5 394.6L486.3 396.2M481.5 402.7L480.3 404.3L479.1 405.9L477.9 407.6L476.7 409.2M471.9 415.6L470.7 417.3L469.6 418.9L468.4 420.5L467.2 422.1M462.5 428.6L461.3 430.2L460.1 431.8L459.0 433.4L457.8 435.0M453.1 441.4L452.0 443.0L450.8 444.6L449.6 446.2L448.5 447.9M443.8 454.2L442.7 455.8L441.5 457.4L440.4 459.0L439.2 460.6M434.7 467.0L433.5 468.6L432.4 470.2L431.2 471.8L430.1 473.4M425.5 479.8L424.4 481.4L423.2 482.9L422.1 484.5L421.0 486.1M416.4 492.5L415.3 494.1L414.2 495.6L413.1 497.2L412.0 498.8M697.5 150.2L696.5 151.5L695.1 153.2M689.6 160.2L688.2 161.9L686.9 163.7L685.5 165.4L684.1 167.2M678.7 174.1L677.3 175.9L675.9 177.6L674.6 179.3L673.2 181.1M667.8 188.0L666.5 189.7L665.1 191.5L663.8 193.2L662.4 194.9M657.1 201.8L655.7 203.6L654.4 205.3L653.1 207.0L651.7 208.7M646.4 215.6L645.1 217.3L643.8 219.0L642.4 220.8L641.1 222.5M635.8 229.3L634.5 231.0L633.2 232.7L631.9 234.4L630.6 236.2M625.4 243.0L624.0 244.7L622.7 246.4L621.4 248.1L620.1 249.8M615.0 256.6L613.7 258.3L612.4 260.0L611.1 261.7L609.8 263.4M604.7 270.1L603.4 271.8L602.1 273.5L600.8 275.2L599.5 276.9M594.4 283.6L593.2 285.3L591.9 287.0L590.6 288.7L589.3 290.4M584.3 297.1L583.0 298.7L581.8 300.4L580.5 302.1L579.3 303.8M574.3 310.4L573.0 312.1L571.8 313.8L570.5 315.5L569.3 317.1M564.3 323.8L563.1 325.4L561.8 327.1L560.6 328.8L559.4 330.4M554.5 337.1L553.2 338.7L552.0 340.4L550.8 342.0L549.5 343.7M544.7 350.3L543.5 351.9L542.2 353.6L541.0 355.2L539.8 356.9M535.0 363.5L533.8 365.1L532.6 366.8L531.4 368.4L530.2 370.1M525.4 376.6L524.2 378.2L523.0 379.9L521.8 381.5L520.6 383.1M515.9 389.7L514.7 391.3L513.5 392.9L512.3 394.6L511.1 396.2M506.5 402.7L505.3 404.3L504.1 405.9L502.9 407.6L501.8 409.2M497.1 415.6L496.0 417.3L494.8 418.9L493.6 420.5L492.5 422.1M487.9 428.6L486.7 430.2L485.6 431.8L484.4 433.4L483.3 435.0M478.7 441.4L477.6 443.0L476.4 444.6L475.3 446.2L474.1 447.9M469.6 454.2L468.5 455.8L467.4 457.4L466.2 459.0L465.1 460.6M460.6 467.0L459.5 468.6L458.4 470.2L457.3 471.8L456.2 473.4M451.7 479.8L450.6 481.4L449.5 482.9L448.4 484.5L447.3 486.1M442.8 492.5L441.7 494.1L440.6 495.6L439.5 497.2L438.4 498.8M697.5 191.2L697.3 191.5L696.0 193.2L694.7 194.9M689.5 201.8L688.2 203.6L686.9 205.3L685.5 207.0L684.2 208.7M679.1 215.6L677.8 217.3L676.5 219.0L675.2 220.8L673.9 222.5M668.8 229.3L667.5 231.0L666.2 232.7L664.9 234.4L663.6 236.2M658.5 243.0L657.3 244.7L656.0 246.4L654.7 248.1L653.4 249.8M648.4 256.6L647.1 258.3L645.9 260.0L644.6 261.7L643.4 263.4M638.4 270.1L637.1 271.8L635.9 273.5L634.6 275.2L633.4 276.9M628.4 283.6L627.2 285.3L625.9 287.0L624.7 288.7L623.5 290.4M618.6 297.1L617.3 298.7L616.1 300.4L614.9 302.1L613.6 303.8M608.8 310.4L607.6 312.1L606.4 313.8L605.1 315.5L603.9 317.1M599.1 323.8L597.9 325.4L596.7 327.1L595.5 328.8L594.3 330.4M589.5 337.1L588.3 338.7L587.1 340.4L585.9 342.0L584.8 343.7M580.0 350.3L578.9 351.9L577.7 353.6L576.5 355.2L575.3 356.9M570.6 363.5L569.5 365.1L568.3 366.8L567.1 368.4L565.9 370.1M561.3 376.6L560.2 378.2L559.0 379.9L557.8 381.5L556.7 383.1M552.1 389.7L550.9 391.3L549.8 392.9L548.6 394.6L547.5 396.2M543.0 402.7L541.8 404.3L540.7 405.9L539.5 407.6L538.4 409.2M533.9 415.6L532.8 417.3L531.7 418.9L530.5 420.5L529.4 422.1M524.9 428.6L523.8 430.2L522.7 431.8L521.6 433.4L520.5 435.0M516.1 441.4L515.0 443.0L513.9 444.6L512.8 446.2L511.7 447.9M507.3 454.2L506.2 455.8L505.1 457.4L504.0 459.0L502.9 460.6M498.6 467.0L497.5 468.6L496.4 470.2L495.4 471.8L494.3 473.4M490.0 479.8L488.9 481.4L487.8 482.9L486.8 484.5L485.7 486.1M481.4 492.5L480.4 494.1L479.3 495.6L478.2 497.2L477.2 498.8M692.9 229.3L691.6 231.0L690.4 232.7L689.1 234.4L687.9 236.2M682.9 243.0L681.6 244.7L680.4 246.4L679.1 248.1L677.9 249.8M672.9 256.6L671.7 258.3L670.5 260.0L669.2 261.7L668.0 263.4M663.1 270.1L661.9 271.8L660.7 273.5L659.4 275.2L658.2 276.9M653.4 283.6L652.1 285.3L650.9 287.0L649.7 288.7L648.5 290.4M643.7 297.1L642.5 298.7L641.3 300.4L640.1 302.1L638.9 303.8M634.1 310.4L633.0 312.1L631.8 313.8L630.6 315.5L629.4 317.1M624.7 323.8L623.5 325.4L622.3 327.1L621.1 328.8L620.0 330.4M615.3 337.1L614.1 338.7L613.0 340.4L611.8 342.0L610.6 343.7M606.0 350.3L604.9 351.9L603.7 353.6L602.5 355.2L601.4 356.9M596.8 363.5L595.7 365.1L594.5 366.8L593.4 368.4L592.2 370.1M587.7 376.6L586.6 378.2L585.4 379.9L584.3 381.5L583.2 383.1M578.7 389.7L577.6 391.3L576.5 392.9L575.3 394.6L574.2 396.2M569.8 402.7L568.7 404.3L567.6 405.9L566.5 407.6L565.3 409.2M561.0 415.6L559.9 417.3L558.8 418.9L557.7 420.5L556.6 422.1M552.2 428.6L551.1 430.2L550.0 431.8L549.0 433.4L547.9 435.0M543.6 441.4L542.5 443.0L541.4 444.6L540.3 446.2L539.3 447.9M535.0 454.2L533.9 455.8L532.9 457.4L531.8 459.0L530.8 460.6M526.6 467.0L525.5 468.6L524.4 470.2L523.4 471.8L522.3 473.4M518.1 479.8L517.1 481.4L516.1 482.9L515.0 484.5L514.0 486.1M509.8 492.5L508.8 494.1L507.8 495.6L506.7 497.2L505.7 498.8M697.5 249.5L697.3 249.8M692.5 256.6L691.2 258.3L690.0 260.0L688.8 261.7L687.6 263.4M682.8 270.1L681.6 271.8L680.4 273.5L679.2 275.2L678.0 276.9M673.2 283.6L672.0 285.3L670.8 287.0L669.6 288.7L668.4 290.4M663.7 297.1L662.5 298.7L661.3 300.4L660.2 302.1L659.0 303.8M654.3 310.4L653.1 312.1L652.0 313.8L650.8 315.5L649.6 317.1M645.0 323.8L643.8 325.4L642.7 327.1L641.5 328.8L640.4 330.4M635.8 337.1L634.6 338.7L633.5 340.4L632.3 342.0L631.2 343.7M626.7 350.3L625.5 351.9L624.4 353.6L623.3 355.2L622.1 356.9M617.6 363.5L616.5 365.1L615.4 366.8L614.3 368.4L613.2 370.1M608.7 376.6L607.6 378.2L606.5 379.9L605.4 381.5L604.3 383.1M599.9 389.7L598.8 391.3L597.7 392.9L596.6 394.6L595.5 396.2M591.1 402.7L590.0 404.3L589.0 405.9L587.9 407.6L586.8 409.2M582.5 415.6L581.4 417.3L580.3 418.9L579.3 420.5L578.2 422.1M573.9 428.6L572.9 430.2L571.8 431.8L570.7 433.4L569.7 435.0M565.5 441.4L564.4 443.0L563.3 444.6L562.3 446.2L561.2 447.9M557.1 454.2L556.0 455.8L555.0 457.4L554.0 459.0L552.9 460.6M548.8 467.0L547.8 468.6L546.7 470.2L545.7 471.8L544.7 473.4M540.6 479.8L539.6 481.4L538.5 482.9L537.5 484.5L536.5 486.1M532.4 492.5L531.4 494.1L530.4 495.6L529.4 497.2L528.4 498.8M697.5 272.5L696.8 273.5L695.6 275.2L694.4 276.9M689.7 283.6L688.5 285.3L687.4 287.0L686.2 288.7L685.0 290.4M680.4 297.1L679.2 298.7L678.0 300.4L676.9 302.1L675.7 303.8M671.1 310.4L669.9 312.1L668.8 313.8L667.6 315.5L666.5 317.1M661.9 323.8L660.8 325.4L659.6 327.1L658.5 328.8L657.4 330.4M652.9 337.1L651.7 338.7L650.6 340.4L649.5 342.0L648.3 343.7M643.9 350.3L642.8 351.9L641.7 353.6L640.5 355.2L639.4 356.9M635.0 363.5L633.9 365.1L632.8 366.8L631.7 368.4L630.6 370.1M626.2 376.6L625.1 378.2L624.0 379.9L622.9 381.5L621.9 383.1M617.5 389.7L616.4 391.3L615.4 392.9L614.3 394.6L613.2 396.2M608.9 402.7L607.9 404.3L606.8 405.9L605.7 407.6L604.7 409.2M600.4 415.6L599.4 417.3L598.3 418.9L597.3 420.5L596.2 422.1M592.0 428.6L591.0 430.2L589.9 431.8L588.9 433.4L587.8 435.0M583.7 441.4L582.7 443.0L581.6 444.6L580.6 446.2L579.6 447.9M575.5 454.2L574.5 455.8L573.4 457.4L572.4 459.0L571.4 460.6M567.4 467.0L566.3 468.6L565.3 470.2L564.3 471.8L563.3 473.4M559.3 479.8L558.3 481.4L557.3 482.9L556.3 484.5L555.3 486.1M551.3 492.5L550.3 494.1L549.3 495.6L548.4 497.2L547.4 498.8M697.5 302.4L696.5 303.8M692.0 310.4L690.9 312.1L689.8 313.8L688.6 315.5L687.5 317.1M683.0 323.8L681.9 325.4L680.8 327.1L679.7 328.8L678.6 330.4M674.2 337.1L673.1 338.7L671.9 340.4L670.8 342.0L669.7 343.7M665.4 350.3L664.3 351.9L663.2 353.6L662.1 355.2L661.0 356.9M656.7 363.5L655.6 365.1L654.5 366.8L653.4 368.4L652.3 370.1M648.1 376.6L647.0 378.2L645.9 379.9L644.9 381.5L643.8 383.1M639.6 389.7L638.5 391.3L637.4 392.9L636.4 394.6L635.3 396.2M631.1 402.7L630.1 404.3L629.1 405.9L628.0 407.6L627.0 409.2M622.8 415.6L621.8 417.3L620.8 418.9L619.7 420.5L618.7 422.1M614.6 428.6L613.6 430.2L612.6 431.8L611.5 433.4L610.5 435.0M606.5 441.4L605.5 443.0L604.5 444.6L603.5 446.2L602.4 447.9M598.5 454.2L597.5 455.8L596.5 457.4L595.5 459.0L594.5 460.6M590.5 467.0L589.5 468.6L588.5 470.2L587.6 471.8L586.6 473.4M582.6 479.8L581.7 481.4L580.7 482.9L579.7 484.5L578.8 486.1M574.9 492.5L573.9 494.1L572.9 495.6L572.0 497.2L571.0 498.8M693.7 350.3L692.6 351.9L691.6 353.6L690.5 355.2L689.4 356.9M685.2 363.5L684.2 365.1L683.1 366.8L682.1 368.4L681.0 370.1M676.9 376.6L675.8 378.2L674.8 379.9L673.8 381.5L672.7 383.1M668.6 389.7L667.6 391.3L666.6 392.9L665.5 394.6L664.5 396.2M660.5 402.7L659.4 404.3L658.4 405.9L657.4 407.6L656.4 409.2M652.4 415.6L651.4 417.3L650.4 418.9L649.4 420.5L648.4 422.1M644.4 428.6L643.4 430.2L642.4 431.8L641.5 433.4L640.5 435.0M636.6 441.4L635.6 443.0L634.6 444.6L633.6 446.2L632.7 447.9M628.8 454.2L627.8 455.8L626.9 457.4L625.9 459.0L624.9 460.6M621.1 467.0L620.2 468.6L619.2 470.2L618.3 471.8L617.3 473.4M613.5 479.8L612.6 481.4L611.6 482.9L610.7 484.5L609.7 486.1M606.0 492.5L605.1 494.1L604.1 495.6L603.2 497.2L602.3 498.8M697.5 380.2L696.7 381.5L695.7 383.1M691.7 389.7L690.7 391.3L689.7 392.9L688.7 394.6L687.7 396.2M683.7 402.7L682.7 404.3L681.7 405.9L680.7 407.6L679.7 409.2M675.8 415.6L674.9 417.3L673.9 418.9L672.9 420.5L671.9 422.1M668.1 428.6L667.1 430.2L666.2 431.8L665.2 433.4L664.2 435.0M660.4 441.4L659.5 443.0L658.5 444.6L657.6 446.2L656.6 447.9M652.9 454.2L651.9 455.8L651.0 457.4L650.0 459.0L649.1 460.6M645.4 467.0L644.5 468.6L643.5 470.2L642.6 471.8L641.7 473.4M638.0 479.8L637.1 481.4L636.2 482.9L635.3 484.5L634.3 486.1M630.7 492.5L629.8 494.1L628.9 495.6L628.0 497.2L627.1 498.8M695.3 415.6L694.4 417.3L693.4 418.9L692.4 420.5L691.5 422.1M687.7 428.6L686.8 430.2L685.8 431.8L684.9 433.4L684.0 435.0M680.2 441.4L679.3 443.0L678.4 444.6L677.4 446.2L676.5 447.9M672.8 454.2L671.9 455.8L671.0 457.4L670.1 459.0L669.2 460.6M665.6 467.0L664.7 468.6L663.7 470.2L662.8 471.8L661.9 473.4M658.3 479.8L657.5 481.4L656.6 482.9L655.7 484.5L654.8 486.1M651.2 492.5L650.4 494.1L649.5 495.6L648.6 497.2L647.7 498.8M697.5 467.8L697.1 468.6L696.2 470.2L695.3 471.8L694.5 473.4M691.0 479.8L690.2 481.4L689.3 482.9L688.4 484.5L687.6 486.1M684.2 492.5L683.3 494.1L682.5 495.6L681.7 497.2L680.8 498.8" stroke="#600098" stroke-width="1"/>
<path d="M108.6 503.5L104.4 499.9L100.2 496.4L96.0 492.8L91.9 489.2L87.9 485.6L87.5 485.3M177.4 503.5L172.7 499.9L168.1 496.4L163.6 492.8L159.1 489.2L154.7 485.6L150.3 482.1L146.0 478.5L141.7 474.9L137.5 471.3L133.3 467.8L129.1 464.2L125.0 460.6L121.0 457.0L117.0 453.4L113.0 449.9L109.1 446.3L105.3 442.7L101.5 439.1L97.7 435.6L94.0 432.0L90.3 428.4L87.5 425.7M246.1 503.5L241.1 499.9L236.1 496.4L231.2 492.8L226.3 489.2L221.5 485.6L216.8 482.1L212.1 478.5L207.4 474.9L202.8 471.3L198.3 467.8L193.8 464.2L189.3 460.6L184.9 457.0L180.5 453.4L176.2 449.9L172.0 446.3L167.7 442.7L163.6 439.1L159.5 435.6L155.4 432.0L151.4 428.4L147.4 424.9L143.5 421.3L139.6 417.7L135.7 414.1L131.9 410.6L128.2 407.0L124.5 403.4L120.8 399.8L117.2 396.2L113.7 392.7L110.1 389.1L106.6 385.5L103.2 381.9L99.8 378.4L96.5 374.8L93.2 371.2L89.9 367.6L87.5 365.0M314.8 503.5L309.4 499.9L304.1 496.4L298.8 492.8L293.5 489.2L288.4 485.6L283.2 482.1L278.1 478.5L273.1 474.9L268.2 471.3L263.2 467.8L258.4 464.2L253.5 460.6L248.8 457.0L244.1 453.4L239.4 449.9L234.8 446.3L230.2 442.7L225.7 439.1L221.2 435.6L216.8 432.0L212.5 428.4L208.1 424.9L203.9 421.3L199.7 417.7L195.5 414.1L191.3 410.6L187.3 407.0L183.2 403.4L179.2 399.8L175.3 396.2L171.4 392.7L167.6 389.1L163.8 385.5L160.0 381.9L156.3 378.4L152.6 374.8L149.0 371.2L145.4 367.6L141.9 364.1L138.4 360.5L135.0 356.9L131.6 353.4L128.2 349.8L124.9 346.2L121.6 342.6L118.4 339.1L115.2 335.5L112.0 331.9L108.9 328.3L105.9 324.8L102.8 321.2L99.9 317.6L96.9 314.0L94.0 310.4L91.2 306.9L88.3 303.3L87.5 302.2M383.5 503.5L377.7 499.9L372.0 496.4L366.3 492.8L360.7 489.2L355.2 485.6L349.7 482.1L344.2 478.5L338.8 474.9L333.5 471.3L328.2 467.8L323.0 464.2L317.8 460.6L312.7 457.0L307.6 453.4L302.6 449.9L297.6 446.3L292.7 442.7L287.8 439.1L283.0 435.6L278.3 432.0L273.6 428.4L268.9 424.9L264.3 421.3L259.7 417.7L255.2 414.1L250.8 410.6L246.3 407.0L242.0 403.4L237.7 399.8L233.4 396.2L229.2 392.7L225.0 389.1L220.9 385.5L216.8 381.9L212.8 378.4L208.8 374.8L204.9 371.2L201.0 367.6L197.1 364.1L193.3 360.5L189.6 356.9L185.9 353.4L182.2 349.8L178.6 346.2L175.0 342.6L171.5 339.1L168.0 335.5L164.6 331.9L161.2 328.3L157.8 324.8L154.5 321.2L151.2 317.6L148.0 314.0L144.8 310.4L141.7 306.9L138.6 303.3L135.5 299.7L132.5 296.1L129.5 292.6L126.6 289.0L123.7 285.4L120.8 281.9L118.0 278.3L115.2 274.7L112.5 271.1L109.8 267.6L107.1 264.0L104.5 260.4L101.9 256.8L99.4 253.2L96.9 249.7L94.4 246.1L92.0 242.5L89.6 238.9L87.5 235.8M452.2 503.5L446.1 499.9L440.0 496.4L433.9 492.8L427.9 489.2L422.0 485.6L416.1 482.1L410.3 478.5L404.5 474.9L398.8 471.3L393.2 467.8L387.6 464.2L382.1 460.6L376.6 457.0L371.1 453.4L365.8 449.9L360.4 446.3L355.2 442.7L350.0 439.1L344.8 435.6L339.7 432.0L334.7 428.4L329.6 424.9L324.7 421.3L319.8 417.7L315.0 414.1L310.2 410.6L305.4 407.0L300.7 403.4L296.1 399.8L291.5 396.2L286.9 392.7L282.5 389.1L278.0 385.5L273.6 381.9L269.3 378.4L265.0 374.8L260.7 371.2L256.5 367.6L252.4 364.1L248.3 360.5L244.2 356.9L240.2 353.4L236.2 349.8L232.3 346.2L228.4 342.6L224.6 339.1L220.8 335.5L217.1 331.9L213.4 328.3L209.7 324.8L206.1 321.2L202.6 317.6L199.1 314.0L195.6 310.4L192.2 306.9L188.8 303.3L185.4 299.7L182.1 296.1L178.9 292.6L175.7 289.0L172.5 285.4L169.4 281.9L166.3 278.3L163.2 274.7L160.2 271.1L157.3 267.6L154.3 264.0L151.4 260.4L148.6 256.8L145.8 253.2L143.0 249.7L140.3 246.1L137.6 242.5L135.0 238.9L132.4 235.4L129.8 231.8L127.3 228.2L124.8 224.6L122.3 221.1L119.9 217.5L117.5 213.9L115.2 210.4L112.9 206.8L110.6 203.2L108.4 199.6L106.2 196.1L104.1 192.5L101.9 188.9L99.8 185.3L97.8 181.8L95.8 178.2L93.8 174.6L91.9 171.0L90.0 167.4L88.1 163.9L87.5 162.7M521.0 503.5L514.4 499.9L507.9 496.4L501.5 492.8L495.1 489.2L488.8 485.6L482.6 482.1L476.4 478.5L470.2 474.9L464.2 471.3L458.2 467.8L452.2 464.2L446.3 460.6L440.5 457.0L434.7 453.4L428.9 449.9L423.3 446.3L417.7 442.7L412.1 439.1L406.6 435.6L401.1 432.0L395.7 428.4L390.4 424.9L385.1 421.3L379.9 417.7L374.7 414.1L369.6 410.6L364.5 407.0L359.5 403.4L354.5 399.8L349.6 396.2L344.7 392.7L339.9 389.1L335.1 385.5L330.4 381.9L325.8 378.4L321.1 374.8L316.6 371.2L312.1 367.6L307.6 364.1L303.2 360.5L298.8 356.9L294.5 353.4L290.2 349.8L286.0 346.2L281.8 342.6L277.7 339.1L273.6 335.5L269.6 331.9L265.6 328.3L261.7 324.8L257.8 321.2L253.9 317.6L250.1 314.0L246.4 310.4L242.7 306.9L239.0 303.3L235.4 299.7L231.8 296.1L228.3 292.6L224.8 289.0L221.3 285.4L217.9 281.9L214.6 278.3L211.2 274.7L208.0 271.1L204.7 267.6L201.5 264.0L198.4 260.4L195.3 256.8L192.2 253.2L189.2 249.7L186.2 246.1L183.3 242.5L180.4 238.9L177.5 235.4L174.7 231.8L171.9 228.2L169.2 224.6L166.5 221.1L163.8 217.5L161.2 213.9L158.6 210.4L156.1 206.8L153.6 203.2L151.1 199.6L148.7 196.1L146.3 192.5L143.9 188.9L141.6 185.3L139.3 181.8L137.1 178.2L134.9 174.6L132.7 171.0L130.6 167.4L128.5 163.9L126.4 160.3L124.4 156.7L122.4 153.1L120.4 149.6L118.5 146.0L116.6 142.4L114.8 138.9L112.9 135.3L111.1 131.7L109.4 128.1L107.7 124.6L106.0 121.0L104.4 117.4L102.7 113.8L101.2 110.2L99.6 106.7L98.1 103.1L96.6 99.5L95.2 95.9L93.7 92.4L92.4 88.8L91.0 85.2L89.7 81.6L88.4 78.1L87.5 75.6M589.7 503.5L582.7 499.9L575.9 496.4L569.1 492.8L562.3 489.2L555.6 485.6L549.0 482.1L542.5 478.5L536.0 474.9L529.5 471.3L523.1 467.8L516.8 464.2L510.6 460.6L504.4 457.0L498.2 453.4L492.1 449.9L486.1 446.3L480.1 442.7L474.2 439.1L468.4 435.6L462.6 432.0L456.8 428.4L451.2 424.9L445.5 421.3L440.0 417.7L434.4 414.1L429.0 410.6L423.6 407.0L418.2 403.4L412.9 399.8L407.7 396.2L402.5 392.7L397.3 389.1L392.3 385.5L387.2 381.9L382.2 378.4L377.3 374.8L372.4 371.2L367.6 367.6L362.8 364.1L358.1 360.5L353.4 356.9L348.8 353.4L344.2 349.8L339.7 346.2L335.2 342.6L330.8 339.1L326.4 335.5L322.1 331.9L317.8 328.3L313.6 324.8L309.4 321.2L305.3 317.6L301.2 314.0L297.1 310.4L293.2 306.9L289.2 303.3L285.3 299.7L281.4 296.1L277.6 292.6L273.9 289.0L270.1 285.4L266.5 281.9L262.8 278.3L259.3 274.7L255.7 271.1L252.2 267.6L248.8 264.0L245.3 260.4L242.0 256.8L238.7 253.2L235.4 249.7L232.1 246.1L228.9 242.5L225.8 238.9L222.7 235.4L219.6 231.8L216.6 228.2L213.6 224.6L210.6 221.1L207.7 217.5L204.8 213.9L202.0 210.4L199.2 206.8L196.5 203.2L193.8 199.6L191.1 196.1L188.5 192.5L185.9 188.9L183.3 185.3L180.8 181.8L178.3 178.2L175.9 174.6L173.5 171.0L171.1 167.4L168.8 163.9L166.5 160.3L164.3 156.7L162.1 153.1L159.9 149.6L157.7 146.0L155.6 142.4L153.6 138.9L151.5 135.3L149.5 131.7L147.6 128.1L145.6 124.6L143.7 121.0L141.9 117.4L140.1 113.8L138.3 110.2L136.5 106.7L134.8 103.1L133.1 99.5L131.4 95.9L129.8 92.4L128.2 88.8L126.7 85.2L125.2 81.6L123.7 78.1L122.2 74.5M658.4 503.5L651.1 499.9L643.8 496.4L636.6 492.8L629.5 489.2L622.5 485.6L615.5 482.1L608.5 478.5L601.7 474.9L594.9 471.3L588.1 467.8L581.4 464.2L574.8 460.6L568.3 457.0L561.8 453.4L555.3 449.9L548.9 446.3L542.6 442.7L536.4 439.1L530.2 435.6L524.0 432.0L517.9 428.4L511.9 424.9L505.9 421.3L500.0 417.7L494.2 414.1L488.4 410.6L482.6 407.0L477.0 403.4L471.3 399.8L465.8 396.2L460.2 392.7L454.8 389.1L449.4 385.5L444.0 381.9L438.7 378.4L433.5 374.8L428.3 371.2L423.2 367.6L418.1 364.1L413.0 360.5L408.1 356.9L403.1 353.4L398.2 349.8L393.4 346.2L388.6 342.6L383.9 339.1L379.3 335.5L374.6 331.9L370.1 328.3L365.5 324.8L361.1 321.2L356.6 317.6L352.3 314.0L347.9 310.4L343.7 306.9L339.4 303.3L335.2 299.7L331.1 296.1L327.0 292.6L323.0 289.0L319.0 285.4L315.0 281.9L311.1 278.3L307.3 274.7L303.5 271.1L299.7 267.6L296.0 264.0L292.3 260.4L288.7 256.8L285.1 253.2L281.5 249.7L278.0 246.1L274.6 242.5L271.2 238.9L267.8 235.4L264.5 231.8L261.2 228.2L258.0 224.6L254.8 221.1L251.6 217.5L248.5 213.9L245.4 210.4L242.4 206.8L239.4 203.2L236.5 199.6L233.6 196.1L230.7 192.5L227.9 188.9L225.1 185.3L222.3 181.8L219.6 178.2L216.9 174.6L214.3 171.0L211.7 167.4L209.2 163.9L206.7 160.3L204.2 156.7L201.7 153.1L199.3 149.6L197.0 146.0L194.7 142.4L192.4 138.9L190.1 135.3L187.9 131.7L185.7 128.1L183.6 124.6L181.5 121.0L179.4 117.4L177.4 113.8L175.4 110.2L173.4 106.7L171.5 103.1L169.6 99.5L167.7 95.9L165.9 92.4L164.1 88.8L162.4 85.2L160.6 81.6L159.0 78.1L157.3 74.5M697.5 489.6L696.7 489.2L689.3 485.6L681.9 482.1L674.6 478.5L667.4 474.9L660.2 471.3L653.1 467.8L646.0 464.2L639.1 460.6L632.1 457.0L625.3 453.4L618.5 449.9L611.8 446.3L605.1 442.7L598.5 439.1L591.9 435.6L585.5 432.0L579.0 428.4L572.7 424.9L566.4 421.3L560.1 417.7L553.9 414.1L547.8 410.6L541.7 407.0L535.7 403.4L529.7 399.8L523.9 396.2L518.0 392.7L512.2 389.1L506.5 385.5L500.8 381.9L495.2 378.4L489.7 374.8L484.1 371.2L478.7 367.6L473.3 364.1L468.0 360.5L462.7 356.9L457.4 353.4L452.3 349.8L447.1 346.2L442.1 342.6L437.0 339.1L432.1 335.5L427.1 331.9L422.3 328.3L417.5 324.8L412.7 321.2L408.0 317.6L403.3 314.0L398.7 310.4L394.2 306.9L389.6 303.3L385.2 299.7L380.8 296.1L376.4 292.6L372.1 289.0L367.8 285.4L363.6 281.9L359.4 278.3L355.3 274.7L351.2 271.1L347.2 267.6L343.2 264.0L339.3 260.4L335.4 256.8L331.5 253.2L327.7 249.7L324.0 246.1L320.2 242.5L316.6 238.9L313.0 235.4L309.4 231.8L305.9 228.2L302.4 224.6L298.9 221.1L295.5 217.5L292.2 213.9L288.8 210.4L285.6 206.8L282.3 203.2L279.2 199.6L276.0 196.1L272.9 192.5L269.8 188.9L266.8 185.3L263.8 181.8L260.9 178.2L258.0 174.6L255.1 171.0L252.3 167.4L249.5 163.9L246.8 160.3L244.1 156.7L241.4 153.1L238.8 149.6L236.2 146.0L233.7 142.4L231.2 138.9L228.7 135.3L226.3 131.7L223.9 128.1L221.5 124.6L219.2 121.0L216.9 117.4L214.7 113.8L212.5 110.2L210.3 106.7L208.2 103.1L206.1 99.5L204.0 95.9L202.0 92.4L200.0 88.8L198.0 85.2L196.1 81.6L194.2 78.1L192.4 74.5M697.5 457.7L696.0 457.0L688.8 453.4L681.7 449.9L674.6 446.3L667.6 442.7L660.6 439.1L653.7 435.6L646.9 432.0L640.1 428.4L633.4 424.9L626.8 421.3L620.2 417.7L613.7 414.1L607.2 410.6L600.8 407.0L594.4 403.4L588.2 399.8L581.9 396.2L575.8 392.7L569.7 389.1L563.6 385.5L557.6 381.9L551.7 378.4L545.8 374.8L540.0 371.2L534.2 367.6L528.5 364.1L522.9 360.5L517.3 356.9L511.8 353.4L506.3 349.8L500.8 346.2L495.5 342.6L490.1 339.1L484.9 335.5L479.7 331.9L474.5 328.3L469.4 324.8L464.3 321.2L459.3 317.6L454.4 314.0L449.5 310.4L444.6 306.9L439.9 303.3L435.1 299.7L430.4 296.1L425.8 292.6L421.2 289.0L416.6 285.4L412.1 281.9L407.7 278.3L403.3 274.7L399.0 271.1L394.7 267.6L390.4 264.0L386.2 260.4L382.1 256.8L377.9 253.2L373.9 249.7L369.9 246.1L365.9 242.5L362.0 238.9L358.1 235.4L354.3 231.8L350.5 228.2L346.8 224.6L343.1 221.1L339.4 217.5L335.8 213.9L332.3 210.4L328.7 206.8L325.3 203.2L321.8 199.6L318.5 196.1L315.1 192.5L311.8 188.9L308.6 185.3L305.3 181.8L302.2 178.2L299.0 174.6L296.0 171.0L292.9 167.4L289.9 163.9L286.9 160.3L284.0 156.7L281.1 153.1L278.3 149.6L275.5 146.0L272.7 142.4L270.0 138.9L267.3 135.3L264.7 131.7L262.1 128.1L259.5 124.6L257.0 121.0L254.5 117.4L252.0 113.8L249.6 110.2L247.2 106.7L244.9 103.1L242.6 99.5L240.3 95.9L238.1 92.4L235.9 88.8L233.7 85.2L231.6 81.6L229.5 78.1L227.5 74.5M697.5 426.5L694.2 424.9L687.2 421.3L680.3 417.7L673.4 414.1L666.6 410.6L659.9 407.0L653.2 403.4L646.6 399.8L640.0 396.2L633.5 392.7L627.1 389.1L620.7 385.5L614.4 381.9L608.2 378.4L602.0 374.8L595.9 371.2L589.8 367.6L583.8 364.1L577.8 360.5L571.9 356.9L566.1 353.4L560.3 349.8L554.5 346.2L548.9 342.6L543.3 339.1L537.7 335.5L532.2 331.9L526.7 328.3L521.3 324.8L516.0 321.2L510.7 317.6L505.5 314.0L500.3 310.4L495.1 306.9L490.1 303.3L485.0 299.7L480.1 296.1L475.2 292.6L470.3 289.0L465.5 285.4L460.7 281.9L456.0 278.3L451.3 274.7L446.7 271.1L442.1 267.6L437.6 264.0L433.2 260.4L428.7 256.8L424.4 253.2L420.1 249.7L415.8 246.1L411.6 242.5L407.4 238.9L403.3 235.4L399.2 231.8L395.1 228.2L391.2 224.6L387.2 221.1L383.3 217.5L379.5 213.9L375.7 210.4L371.9 206.8L368.2 203.2L364.5 199.6L360.9 196.1L357.3 192.5L353.8 188.9L350.3 185.3L346.8 181.8L343.4 178.2L340.1 174.6L336.8 171.0L333.5 167.4L330.3 163.9L327.1 160.3L323.9 156.7L320.8 153.1L317.7 149.6L314.7 146.0L311.7 142.4L308.8 138.9L305.9 135.3L303.0 131.7L300.2 128.1L297.4 124.6L294.7 121.0L292.0 117.4L289.3 113.8L286.7 110.2L284.1 106.7L281.6 103.1L279.1 99.5L276.6 95.9L274.2 92.4L271.8 88.8L269.4 85.2L267.1 81.6L264.8 78.1L262.6 74.5M697.5 395.9L691.3 392.7L684.6 389.1L677.9 385.5L671.2 381.9L664.7 378.4L658.2 374.8L651.7 371.2L645.3 367.6L639.0 364.1L632.7 360.5L626.5 356.9L620.4 353.4L614.3 349.8L608.3 346.2L602.3 342.6L596.4 339.1L590.5 335.5L584.7 331.9L579.0 328.3L573.3 324.8L567.6 321.2L562.1 317.6L556.5 314.0L551.1 310.4L545.6 306.9L540.3 303.3L535.0 299.7L529.7 296.1L524.5 292.6L519.4 289.0L514.3 285.4L509.3 281.9L504.3 278.3L499.3 274.7L494.5 271.1L489.6 267.6L484.8 264.0L480.1 260.4L475.4 256.8L470.8 253.2L466.2 249.7L461.7 246.1L457.2 242.5L452.8 238.9L448.4 235.4L444.1 231.8L439.8 228.2L435.5 224.6L431.4 221.1L427.2 217.5L423.1 213.9L419.1 210.4L415.1 206.8L411.1 203.2L407.2 199.6L403.3 196.1L399.5 192.5L395.8 188.9L392.0 185.3L388.4 181.8L384.7 178.2L381.1 174.6L377.6 171.0L374.1 167.4L370.6 163.9L367.2 160.3L363.8 156.7L360.5 153.1L357.2 149.6L354.0 146.0L350.8 142.4L347.6 138.9L344.5 135.3L341.4 131.7L338.4 128.1L335.4 124.6L332.4 121.0L329.5 117.4L326.6 113.8L323.8 110.2L321.0 106.7L318.3 103.1L315.6 99.5L312.9 95.9L310.2 92.4L307.6 88.8L305.1 85.2L302.6 81.6L300.1 78.1L297.6 74.5M697.5 365.8L694.2 364.1L687.7 360.5L681.1 356.9L674.7 353.4L668.3 349.8L662.0 346.2L655.7 342.6L649.5 339.1L643.3 335.5L637.2 331.9L631.2 328.3L625.2 324.8L619.3 321.2L613.4 317.6L607.6 314.0L601.8 310.4L596.1 306.9L590.5 303.3L584.9 299.7L579.4 296.1L573.9 292.6L568.5 289.0L563.1 285.4L557.8 281.9L552.6 278.3L547.4 274.7L542.2 271.1L537.1 267.6L532.1 264.0L527.1 260.4L522.1 256.8L517.2 253.2L512.4 249.7L507.6 246.1L502.9 242.5L498.2 238.9L493.5 235.4L489.0 231.8L484.4 228.2L479.9 224.6L475.5 221.1L471.1 217.5L466.8 213.9L462.5 210.4L458.2 206.8L454.0 203.2L449.9 199.6L445.8 196.1L441.7 192.5L437.7 188.9L433.8 185.3L429.9 181.8L426.0 178.2L422.2 174.6L418.4 171.0L414.7 167.4L411.0 163.9L407.3 160.3L403.7 156.7L400.2 153.1L396.7 149.6L393.2 146.0L389.8 142.4L386.4 138.9L383.1 135.3L379.8 131.7L376.5 128.1L373.3 124.6L370.2 121.0L367.0 117.4L364.0 113.8L360.9 110.2L357.9 106.7L355.0 103.1L352.0 99.5L349.2 95.9L346.3 92.4L343.5 88.8L340.8 85.2L338.1 81.6L335.4 78.1L332.7 74.5M697.5 336.2L696.1 335.5L689.7 331.9L683.4 328.3L677.1 324.8L670.9 321.2L664.8 317.6L658.7 314.0L652.6 310.4L646.6 306.9L640.7 303.3L634.9 299.7L629.0 296.1L623.3 292.6L617.6 289.0L612.0 285.4L606.4 281.9L600.8 278.3L595.4 274.7L589.9 271.1L584.6 267.6L579.3 264.0L574.0 260.4L568.8 256.8L563.7 253.2L558.6 249.7L553.5 246.1L548.5 242.5L543.6 238.9L538.7 235.4L533.9 231.8L529.1 228.2L524.3 224.6L519.6 221.1L515.0 217.5L510.4 213.9L505.9 210.4L501.4 206.8L497.0 203.2L492.6 199.6L488.2 196.1L484.0 192.5L479.7 188.9L475.5 185.3L471.4 181.8L467.3 178.2L463.2 174.6L459.2 171.0L455.3 167.4L451.3 163.9L447.5 160.3L443.7 156.7L439.9 153.1L436.1 149.6L432.5 146.0L428.8 142.4L425.2 138.9L421.7 135.3L418.2 131.7L414.7 128.1L411.3 124.6L407.9 121.0L404.6 117.4L401.3 113.8L398.0 110.2L394.8 106.7L391.7 103.1L388.5 99.5L385.5 95.9L382.4 92.4L379.4 88.8L376.5 85.2L373.5 81.6L370.7 78.1L367.8 74.5M697.5 307.1L697.1 306.9L690.9 303.3L684.8 299.7L678.7 296.1L672.7 292.6L666.7 289.0L660.8 285.4L654.9 281.9L649.1 278.3L643.4 274.7L637.7 271.1L632.1 267.6L626.5 264.0L621.0 260.4L615.5 256.8L610.1 253.2L604.7 249.7L599.4 246.1L594.2 242.5L589.0 238.9L583.8 235.4L578.8 231.8L573.7 228.2L568.7 224.6L563.8 221.1L558.9 217.5L554.1 213.9L549.3 210.4L544.6 206.8L539.9 203.2L535.3 199.6L530.7 196.1L526.2 192.5L521.7 188.9L517.3 185.3L512.9 181.8L508.5 178.2L504.3 174.6L500.0 171.0L495.8 167.4L491.7 163.9L487.6 160.3L483.6 156.7L479.6 153.1L475.6 149.6L471.7 146.0L467.8 142.4L464.0 138.9L460.3 135.3L456.5 131.7L452.9 128.1L449.2 124.6L445.6 121.0L442.1 117.4L438.6 113.8L435.1 110.2L431.7 106.7L428.4 103.1L425.0 99.5L421.7 95.9L418.5 92.4L415.3 88.8L412.1 85.2L409.0 81.6L405.9 78.1L402.9 74.5M697.5 278.3L697.4 278.3L691.4 274.7L685.4 271.1L679.5 267.6L673.7 264.0L667.9 260.4L662.2 256.8L656.5 253.2L650.9 249.7L645.3 246.1L639.8 242.5L634.4 238.9L629.0 235.4L623.6 231.8L618.4 228.2L613.1 224.6L607.9 221.1L602.8 217.5L597.7 213.9L592.7 210.4L587.7 206.8L582.8 203.2L578.0 199.6L573.1 196.1L568.4 192.5L563.7 188.9L559.0 185.3L554.4 181.8L549.8 178.2L545.3 174.6L540.8 171.0L536.4 167.4L532.1 163.9L527.7 160.3L523.5 156.7L519.3 153.1L515.1 149.6L511.0 146.0L506.9 142.4L502.8 138.9L498.9 135.3L494.9 131.7L491.0 128.1L487.2 124.6L483.4 121.0L479.6 117.4L475.9 113.8L472.2 110.2L468.6 106.7L465.0 103.1L461.5 99.5L458.0 95.9L454.6 92.4L451.2 88.8L447.8 85.2L444.5 81.6L441.2 78.1L438.0 74.5M697.5 249.9L697.1 249.7L691.3 246.1L685.5 242.5L679.8 238.9L674.1 235.4L668.5 231.8L663.0 228.2L657.5 224.6L652.1 221.1L646.7 217.5L641.4 213.9L636.1 210.4L630.9 206.8L625.8 203.2L620.6 199.6L615.6 196.1L610.6 192.5L605.6 188.9L600.7 185.3L595.9 181.8L591.1 178.2L586.4 174.6L581.7 171.0L577.0 167.4L572.4 163.9L567.9 160.3L563.4 156.7L558.9 153.1L554.6 149.6L550.2 146.0L545.9 142.4L541.7 138.9L537.5 135.3L533.3 131.7L529.2 128.1L525.1 124.6L521.1 121.0L517.1 117.4L513.2 113.8L509.4 110.2L505.5 106.7L501.7 103.1L498.0 99.5L494.3 95.9L490.7 92.4L487.1 88.8L483.5 85.2L480.0 81.6L476.5 78.1L473.1 74.5M697.5 221.9L696.2 221.1L690.6 217.5L685.0 213.9L679.5 210.4L674.1 206.8L668.7 203.2L663.3 199.6L658.0 196.1L652.8 192.5L647.6 188.9L642.5 185.3L637.4 181.8L632.4 178.2L627.4 174.6L622.5 171.0L617.6 167.4L612.8 163.9L608.0 160.3L603.3 156.7L598.6 153.1L594.0 149.6L589.5 146.0L584.9 142.4L580.5 138.9L576.0 135.3L571.7 131.7L567.4 128.1L563.1 124.6L558.9 121.0L554.7 117.4L550.5 113.8L546.5 110.2L542.4 106.7L538.4 103.1L534.5 99.5L530.6 95.9L526.7 92.4L522.9 88.8L519.2 85.2L515.5 81.6L511.8 78.1L508.2 74.5M697.5 194.1L695.0 192.5L689.6 188.9L684.2 185.3L678.9 181.8L673.7 178.2L668.4 174.6L663.3 171.0L658.2 167.4L653.2 163.9L648.2 160.3L643.2 156.7L638.3 153.1L633.5 149.6L628.7 146.0L624.0 142.4L619.3 138.9L614.6 135.3L610.1 131.7L605.5 128.1L601.0 124.6L596.6 121.0L592.2 117.4L587.9 113.8L583.6 110.2L579.3 106.7L575.1 103.1L571.0 99.5L566.9 95.9L562.8 92.4L558.8 88.8L554.9 85.2L550.9 81.6L547.1 78.1L543.3 74.5M697.5 166.6L693.5 163.9L688.3 160.3L683.1 156.7L678.0 153.1L673.0 149.6L667.9 146.0L663.0 142.4L658.1 138.9L653.2 135.3L648.4 131.7L643.7 128.1L639.0 124.6L634.3 121.0L629.7 117.4L625.2 113.8L620.7 110.2L616.2 106.7L611.8 103.1L607.5 99.5L603.2 95.9L598.9 92.4L594.7 88.8L590.5 85.2L586.4 81.6L582.4 78.1L578.3 74.5M697.5 139.3L696.9 138.9L691.8 135.3L686.8 131.7L681.8 128.1L676.9 124.6L672.1 121.0L667.3 117.4L662.5 113.8L657.8 110.2L653.1 106.7L648.5 103.1L644.0 99.5L639.5 95.9L635.0 92.4L630.6 88.8L626.2 85.2L621.9 81.6L617.6 78.1L613.4 74.5M697.5 112.1L694.9 110.2L690.0 106.7L685.2 103.1L680.5 99.5L675.7 95.9L671.1 92.4L666.5 88.8L661.9 85.2L657.4 81.6L652.9 78.1L648.5 74.5M697.5 85.2L692.9 81.6L688.2 78.1L683.6 74.5" stroke="#00ff00"/>
<path d="M87.5 111.0L131.7 74.5M87.5 167.1L199.4 74.5M87.5 223.2L137.6 181.8L267.2 74.5M87.5 279.3L205.4 181.8L335.0 74.5M87.5 335.3L143.5 289.0L273.1 181.8L402.8 74.5M87.5 391.4L211.3 289.0L340.9 181.8L470.5 74.5M87.5 447.5L149.4 396.2L279.1 289.0L408.7 181.8L538.3 74.5M87.6 503.5L217.2 396.2L346.8 289.0L476.5 181.8L606.1 74.5M155.4 503.5L285.0 396.2L414.6 289.0L544.2 181.8L673.9 74.5M223.2 503.5L352.8 396.2L482.4 289.0L612.0 181.8L697.5 111.0M290.9 503.5L420.6 396.2L550.2 289.0L679.8 181.8L697.5 167.1M358.7 503.5L488.3 396.2L618.0 289.0L697.5 223.2M426.5 503.5L556.1 396.2L685.7 289.0L697.5 279.3M494.3 503.5L623.9 396.2L697.5 335.3M562.0 503.5L691.7 396.2L697.5 391.4M629.8 503.5L697.5 447.5" stroke="#ff0000"/>
</g>
<g fill="none" stroke-linejoin="round">
<path d="M597.2 468.5H601.0M595.3 465.5H600.5M594.3 461.5H599.9M593.5 458.5H599.3M592.6 455.5H598.8M591.5 451.5H598.1M590.4 448.5H597.6M588.8 444.5H596.9M587.6 441.5H596.3M586.0 437.5H595.5M584.4 433.5H594.7M582.7 429.5H593.8M580.4 425.5H592.9M578.2 421.5H592.2M575.9 417.5H591.5M573.7 413.5H590.8M570.6 408.5H589.8M568.2 404.5H588.8M566.2 400.5H587.5M565.0 395.5H585.8M563.8 390.5H584.2M562.3 385.5H582.6M561.0 380.5H581.1M560.1 375.5H579.7M558.2 370.5H578.1M555.9 364.5H575.9M553.1 358.5H573.4M550.3 353.5H571.2M546.9 347.5H568.2M543.2 340.5H564.7M540.2 334.5H561.5M535.4 327.5H558.0M530.0 320.5H554.0M522.5 313.5H548.5M516.0 305.5H543.0M509.0 297.5H537.5M502.0 289.5H531.0M493.0 281.5H524.0M484.4 272.5H515.9M475.0 262.5H507.0M464.5 252.5H498.0M452.5 241.5H487.0M447.7 230.5H476.5M441.2 218.5H463.5M435.3 205.5H450.5" stroke="#600098" stroke-width="1" shape-rendering="crispEdges"/>
<path d="M437.8 75.0L435.0 85.0L432.0 98.0L430.0 108.0L427.5 120.0L426.5 126.0L423.5 138.0L421.0 149.0L423.0 158.0L425.0 166.0L426.0 170.0L427.0 176.0L429.0 183.0L431.0 192.0L433.0 202.0L437.0 208.0L440.0 216.0L442.0 220.0L444.5 226.0L447.5 230.0L452.5 241.5L464.0 252.0L475.0 262.5L482.0 270.0L493.0 281.5L502.0 289.5L509.0 297.5L516.0 305.5L522.0 313.0L530.0 320.5L535.0 327.0L540.0 334.0L543.0 340.0L546.0 346.0L550.0 353.0L554.0 360.0L557.0 367.0L559.0 373.0L560.0 375.0L561.5 383.0L564.0 391.0L566.0 400.0L569.0 406.0L574.0 414.0L579.0 423.0L583.0 430.0L587.0 440.0L591.0 450.0L594.0 460.0L595.0 465.0L600.0 473.0L607.0 481.0L617.5 495.5" stroke="#ff0000" stroke-width="1.4"/>
<path d="M385.5 75.0L385.5 88.0L388.0 100.0L390.0 112.0L392.5 125.5L393.5 136.0L396.0 149.0L402.0 160.0L408.5 175.0L410.5 178.5L420.0 200.0L430.0 215.0L437.5 226.0L440.5 229.5L452.0 243.0L460.0 257.0L472.0 276.0L480.0 292.0L486.0 302.0L492.0 315.0L497.0 326.0L500.5 333.0L506.0 349.0L511.0 364.0L514.0 376.0L520.5 390.0L524.5 401.5L535.0 412.0L549.0 426.0L555.0 431.0L565.0 444.0L575.0 457.0L585.0 472.0L592.0 479.0L594.0 485.0L597.0 495.0" stroke="#0000ff" stroke-width="1.4"/>
<path d="M331.0 75.0L340.0 88.0L350.0 100.0L360.0 112.0L372.0 125.5L387.0 142.0" stroke="#600098" stroke-width="1.7"/>
<path d="M387.0 142.0L402.0 159.0L413.0 170.0L418.0 175.0L430.0 187.0L448.0 204.0" stroke="#600098" stroke-width="2.3"/>
<path d="M448.0 204.0L462.0 218.0L470.0 226.0L475.0 230.0L486.0 241.5L497.0 252.5L506.0 262.5L514.0 271.5L523.0 281.5L530.0 289.5L536.5 297.5L542.0 305.5L547.5 313.5L553.0 320.5L557.0 327.5L560.5 334.5L564.0 341.0L567.0 347.0L570.0 353.0L573.0 360.0L575.5 366.0L578.0 373.0L580.0 380.0L583.0 390.0L586.0 399.0L588.0 405.0L589.5 412.0L591.0 420.0L592.0 426.0L594.0 435.0L596.0 445.0L597.5 454.0L599.0 462.0L600.5 472.0L601.5 474.0L601.5 489.0L604.0 489.5L617.5 496.0" stroke="#600098" stroke-width="1.5"/>
<rect x="384" y="75" width="3" height="6" fill="#0000ff"/>
<rect x="596" y="494" width="3" height="3" fill="#0000ff"/>
<rect x="600" y="480" width="3" height="9" fill="#600098"/>
</g>
</svg>
</body></html>
